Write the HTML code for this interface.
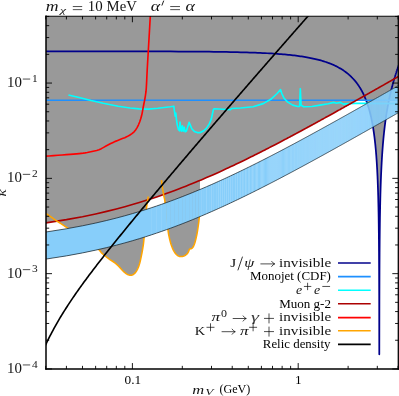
<!DOCTYPE html>
<html><head><meta charset="utf-8"><title>plot</title>
<style>
html,body{margin:0;padding:0;background:#fff;}
body{width:399px;height:396px;overflow:hidden;font-family:"Liberation Serif",serif;}
svg{display:block;}
text{font-family:"Liberation Serif",serif;fill:#141414;}
.i{font-style:italic;}
</style></head><body>
<svg width="399" height="396" viewBox="0 0 399 396">
<defs><linearGradient id="bg" gradientUnits="userSpaceOnUse" x1="150" y1="0" x2="399" y2="0"><stop offset="0" stop-color="#87cefa" stop-opacity="0.7"/><stop offset="0.3" stop-color="#87cefa" stop-opacity="0.4"/><stop offset="0.76" stop-color="#87cefa" stop-opacity="0.45"/><stop offset="1" stop-color="#87cefa" stop-opacity="0.78"/></linearGradient><clipPath id="c"><rect x="46.00" y="16.25" width="352.30" height="352.80"/></clipPath></defs>
<rect width="399" height="396" fill="#fff"/>
<g clip-path="url(#c)" fill="none" stroke-linejoin="round" stroke-linecap="butt">
<polygon points="46.00,16.25 45.70,222.94 46.00,222.90 46.50,222.83 47.00,222.75 47.50,222.68 48.00,222.61 48.50,222.54 49.00,222.46 49.50,222.39 50.00,222.31 50.50,222.24 51.00,222.17 51.50,222.09 52.00,222.02 52.50,221.94 53.00,221.86 53.50,221.79 54.00,221.71 54.50,221.63 55.00,221.56 55.50,221.48 56.00,221.40 56.50,221.32 57.00,221.24 57.50,221.38 58.00,221.71 58.50,222.05 59.00,222.38 59.50,222.72 60.00,223.05 60.50,223.39 61.00,223.72 61.50,224.06 62.00,224.39 62.50,224.73 63.00,225.07 63.50,225.40 64.00,225.74 64.50,226.08 65.00,226.42 65.50,226.76 66.00,227.10 66.50,227.44 67.00,227.79 67.50,228.13 68.00,228.47 68.50,228.81 69.00,229.15 69.50,229.49 70.00,229.84 70.50,230.18 71.00,230.52 71.50,230.86 72.00,231.20 72.50,231.54 73.00,231.88 73.50,232.22 74.00,232.56 74.50,232.90 75.00,233.24 75.50,233.57 76.00,233.91 76.50,234.25 77.00,234.59 77.50,234.93 78.00,235.27 78.50,235.61 79.00,235.95 79.50,236.29 80.00,236.62 80.50,236.96 81.00,237.30 81.50,237.64 82.00,237.99 82.49,238.32 82.50,238.33 83.00,238.67 83.50,239.01 84.00,239.35 84.50,239.69 85.00,240.03 85.50,240.37 86.00,240.71 86.50,241.05 87.00,241.39 87.50,241.74 88.00,242.08 88.50,242.42 89.00,242.76 89.50,243.10 90.00,243.43 90.50,243.77 91.00,244.10 91.50,244.43 92.00,244.77 92.50,245.10 93.00,245.43 93.50,245.75 94.00,246.08 94.50,246.42 95.00,246.76 95.50,247.09 96.00,247.43 96.50,247.77 97.00,248.14 97.50,248.51 98.00,248.88 98.50,249.28 99.00,249.75 99.50,250.23 100.00,250.87 100.50,251.59 101.00,252.24 101.50,252.80 102.00,253.28 102.50,253.75 103.00,254.20 103.50,254.64 104.00,255.07 104.50,255.49 105.00,255.90 105.50,256.30 106.00,256.70 106.50,257.09 106.71,257.25 107.00,257.47 107.50,257.85 108.00,258.22 108.50,258.58 109.00,258.94 109.50,259.30 110.00,259.63 110.50,259.96 111.00,260.28 111.50,260.59 112.00,260.90 112.50,261.22 113.00,261.53 113.50,261.88 114.00,262.23 114.50,262.61 115.00,262.99 115.50,263.39 116.00,263.79 116.50,264.21 117.00,264.64 117.50,265.07 118.00,265.54 118.50,266.01 119.00,266.53 119.50,267.06 120.00,267.64 120.50,268.24 121.00,268.84 121.50,269.43 122.00,269.97 122.50,270.49 123.00,270.98 123.50,271.45 124.00,271.90 124.50,272.33 124.81,272.59 125.00,272.75 125.50,273.15 126.00,273.52 126.50,273.87 127.00,274.19 127.50,274.47 128.00,274.71 128.50,274.91 129.00,275.07 129.50,275.18 130.00,275.27 130.50,275.32 131.00,275.31 131.50,275.25 132.00,275.13 132.50,274.91 133.00,274.65 133.50,274.31 134.00,273.92 134.50,273.49 135.00,273.00 135.50,272.42 136.00,271.77 136.50,271.01 137.00,270.15 137.50,269.19 138.00,268.11 138.50,266.89 139.00,265.50 139.26,264.72 139.50,263.92 140.00,262.06 140.50,259.94 141.00,257.67 141.50,255.28 142.00,252.73 142.50,249.95 143.00,246.92 143.50,243.50 144.00,238.54 144.50,233.93 145.00,229.31 145.30,226.00 145.50,223.05 146.00,214.69 146.50,207.90 147.00,204.00 147.50,200.93 148.00,199.76 148.30,199.66 148.50,199.60 149.00,199.44 149.50,199.28 150.00,199.11 150.50,198.95 151.00,198.79 151.29,198.69 151.50,198.62 152.00,198.46 152.50,198.29 153.00,198.13 153.50,197.96 154.00,197.79 154.50,197.63 155.00,197.46 155.50,197.29 156.00,197.12 156.50,196.95 157.00,196.78 157.50,196.61 158.00,196.44 158.50,196.27 159.00,196.10 159.50,195.93 160.00,195.75 160.50,195.58 161.00,195.41 161.50,195.23 161.59,195.20 162.00,195.06 162.50,194.88 163.00,194.71 163.50,194.53 164.00,196.63 164.50,198.81 165.00,202.02 165.50,206.38 166.00,211.18 166.50,215.96 167.00,220.78 167.50,225.58 168.00,230.00 168.50,233.56 169.00,236.25 169.50,238.52 170.00,240.57 170.50,242.42 170.61,242.79 171.00,244.07 171.50,245.58 172.00,246.96 172.50,248.22 173.00,249.37 173.50,250.40 174.00,251.28 174.50,252.08 175.00,252.81 175.50,253.46 176.00,254.05 176.50,254.59 177.00,255.06 177.50,255.46 178.00,255.80 178.50,256.08 178.61,256.13 179.00,256.28 179.50,256.44 180.00,256.55 180.50,256.58 181.00,256.58 181.50,256.54 182.00,256.47 182.50,256.38 183.00,256.26 183.50,256.11 184.00,255.95 184.50,255.73 185.00,255.48 185.50,255.20 185.82,254.97 186.00,254.83 186.50,254.41 187.00,253.92 187.50,253.33 188.00,252.61 188.50,251.60 189.00,250.38 189.50,249.37 190.00,248.90 190.50,248.84 191.00,248.80 191.50,248.57 192.00,248.20 192.37,247.88 192.50,247.74 193.00,247.10 193.50,246.21 194.00,245.11 194.50,243.81 195.00,242.31 195.50,240.55 196.00,238.52 196.50,236.25 197.00,233.76 197.50,230.91 198.00,227.60 198.38,225.02 198.50,224.13 199.00,220.09 199.50,212.58 199.80,205.00 200.00,180.39 200.50,180.18 201.00,179.97 201.50,179.76 202.00,179.55 202.50,179.34 203.00,179.12 203.50,178.91 203.92,178.73 204.00,178.70 204.50,178.48 205.00,178.27 205.50,178.05 206.00,177.84 206.50,177.62 207.00,177.41 207.50,177.19 208.00,176.97 208.50,176.76 209.00,176.54 209.06,176.51 209.50,176.32 210.00,176.10 210.50,175.88 211.00,175.66 211.50,175.44 212.00,175.22 212.50,175.00 213.00,174.78 213.50,174.56 213.86,174.40 214.00,174.34 214.50,174.12 215.00,173.89 215.50,173.67 216.00,173.45 216.50,173.22 217.00,173.00 217.50,172.77 218.00,172.55 218.37,172.38 218.50,172.32 219.00,172.10 219.50,171.87 220.00,171.65 220.50,171.42 221.00,171.19 221.50,170.96 222.00,170.74 222.50,170.51 222.60,170.46 223.00,170.28 223.50,170.05 224.00,169.82 224.50,169.59 225.00,169.36 225.50,169.13 226.00,168.90 226.50,168.67 226.60,168.62 227.00,168.43 227.50,168.20 228.00,167.97 228.50,167.74 229.00,167.50 229.50,167.27 230.00,167.04 230.40,166.85 230.50,166.80 231.00,166.57 231.50,166.33 232.00,166.10 232.50,165.86 233.00,165.63 233.50,165.39 234.00,165.15 234.00,165.15 234.50,164.92 235.00,164.68 235.50,164.44 236.00,164.20 236.50,163.96 237.00,163.73 237.43,163.52 237.50,163.49 238.00,163.25 238.50,163.01 239.00,162.77 239.50,162.53 240.00,162.29 240.50,162.05 240.70,161.95 241.00,161.80 241.50,161.56 242.00,161.32 242.50,161.08 243.00,160.84 243.50,160.59 243.83,160.43 244.00,160.35 244.50,160.11 245.00,159.86 245.50,159.62 246.00,159.37 246.50,159.13 246.83,158.97 247.00,158.88 247.50,158.64 248.00,158.39 248.50,158.15 249.00,157.90 249.50,157.65 249.71,157.55 250.00,157.41 250.50,157.16 251.00,156.91 251.50,156.66 252.00,156.42 252.48,156.18 252.50,156.17 253.00,155.92 253.50,155.67 254.00,155.42 254.50,155.17 255.00,154.92 255.15,154.85 255.50,154.67 256.00,154.42 256.50,154.17 257.00,153.92 257.50,153.67 257.72,153.56 258.00,153.42 258.50,153.17 259.00,152.91 259.50,152.66 260.00,152.41 260.20,152.31 260.50,152.16 261.00,151.90 261.50,151.65 262.00,151.40 262.50,151.14 262.60,151.09 263.00,150.89 263.50,150.63 264.00,150.38 264.50,150.12 264.93,149.91 265.00,149.87 265.50,149.61 266.00,149.36 266.50,149.10 267.00,148.85 267.18,148.76 267.50,148.59 268.00,148.33 268.50,148.08 269.00,147.82 269.36,147.63 269.50,147.56 270.00,147.31 270.50,147.05 271.00,146.79 271.48,146.54 271.50,146.53 272.00,146.27 272.50,146.01 273.00,145.75 273.50,145.50 273.54,145.48 274.00,145.24 274.50,144.98 275.00,144.72 275.50,144.46 275.54,144.44 276.00,144.20 276.50,143.94 277.00,143.68 277.48,143.42 277.50,143.41 278.00,143.15 278.50,142.89 279.00,142.63 279.38,142.43 279.50,142.37 280.00,142.11 280.50,141.84 281.00,141.58 281.22,141.46 281.50,141.32 282.00,141.06 282.50,140.79 283.00,140.53 283.02,140.52 283.50,140.27 284.00,140.00 284.50,139.74 284.78,139.59 285.00,139.48 285.50,139.21 286.00,138.95 286.49,138.69 286.50,138.68 287.00,138.42 287.50,138.15 288.00,137.89 288.17,137.80 288.50,137.62 289.00,137.36 289.50,137.09 289.81,136.93 290.00,136.82 290.50,136.56 291.00,136.29 291.41,136.08 291.50,136.03 292.00,135.76 292.50,135.49 292.97,135.24 293.00,135.23 293.50,134.96 294.00,134.69 294.50,134.42 294.50,134.42 295.00,134.16 295.50,133.89 296.00,133.62 296.00,133.62 296.50,133.35 297.00,133.08 297.47,132.83 297.50,132.82 298.00,132.55 298.50,132.28 298.91,132.06 299.00,132.01 299.50,131.74 300.00,131.47 300.33,131.29 300.50,131.20 301.00,130.93 301.50,130.66 301.71,130.55 302.00,130.39 302.50,130.12 303.00,129.85 303.07,129.81 303.50,129.58 304.00,129.31 304.40,129.09 304.50,129.04 305.00,128.77 305.50,128.50 305.71,128.38 306.00,128.23 306.50,127.95 307.00,127.69 307.00,127.68 307.50,127.41 308.00,127.14 308.26,127.00 308.50,126.87 309.00,126.60 309.50,126.32 309.50,126.32 310.00,126.05 310.50,125.78 310.72,125.66 311.00,125.51 311.50,125.23 311.92,125.00 312.00,124.96 312.50,124.69 313.00,124.42 313.10,124.36 313.50,124.14 314.00,123.87 314.26,123.72 314.50,123.60 315.00,123.32 315.41,123.10 315.50,123.05 316.00,122.77 316.50,122.50 316.53,122.48 317.00,122.23 317.50,121.95 317.64,121.87 318.00,121.68 318.50,121.40 318.73,121.28 319.00,121.13 319.50,120.85 319.81,120.69 320.00,120.58 320.50,120.30 320.87,120.10 321.00,120.03 321.50,119.75 321.91,119.53 322.00,119.48 322.50,119.20 322.94,118.96 323.00,118.93 323.50,118.65 323.95,118.40 324.00,118.38 324.50,118.10 324.95,117.85 325.00,117.82 325.50,117.55 325.94,117.31 326.00,117.27 326.50,117.00 326.91,116.77 327.00,116.72 327.50,116.44 327.87,116.24 328.00,116.17 328.50,115.89 328.82,115.71 329.00,115.61 329.50,115.34 329.75,115.20 330.00,115.06 330.50,114.78 330.68,114.68 331.00,114.51 331.50,114.23 331.59,114.18 332.00,113.95 332.49,113.68 332.50,113.67 333.00,113.40 333.38,113.19 333.50,113.12 334.00,112.84 334.26,112.70 334.50,112.56 335.00,112.28 335.12,112.22 335.50,112.01 335.98,111.74 336.00,111.73 336.50,111.45 336.83,111.27 337.00,111.17 337.50,110.89 337.66,110.80 338.00,110.61 338.49,110.34 338.50,110.34 339.00,110.06 339.31,109.88 339.50,109.78 340.00,109.50 340.12,109.43 340.50,109.22 340.92,108.99 341.00,108.94 341.50,108.66 341.71,108.55 342.00,108.38 342.49,108.11 342.50,108.10 343.00,107.83 343.27,107.68 343.50,107.55 344.00,107.27 344.03,107.25 344.50,106.99 344.79,106.82 345.00,106.71 345.50,106.43 345.54,106.40 346.00,106.15 346.28,105.99 346.50,105.87 347.00,105.59 347.02,105.58 347.50,105.31 347.75,105.17 348.00,105.03 348.11,104.97 348.25,104.89 348.40,104.81 348.50,104.75 348.54,104.73 348.68,104.65 348.82,104.57 348.97,104.49 349.00,104.47 349.11,104.41 349.25,104.33 349.39,104.25 349.50,104.19 349.53,104.17 349.67,104.09 349.82,104.01 349.96,103.93 350.00,103.91 350.10,103.85 350.24,103.77 350.38,103.70 350.50,103.63 350.52,103.62 350.65,103.54 350.79,103.46 350.93,103.38 351.00,103.35 351.07,103.31 351.21,103.23 351.35,103.15 351.48,103.07 351.50,103.07 351.62,103.00 351.76,102.92 351.89,102.84 352.00,102.79 352.03,102.77 352.17,102.69 352.30,102.61 352.44,102.54 352.50,102.50 352.57,102.46 352.71,102.39 352.84,102.31 352.98,102.24 353.00,102.22 353.11,102.16 353.25,102.08 353.38,102.01 353.50,101.94 353.52,101.93 353.65,101.86 353.78,101.78 353.92,101.71 354.00,101.66 354.05,101.63 354.18,101.56 354.31,101.49 354.44,101.41 354.50,101.38 354.58,101.34 354.71,101.26 354.84,101.19 354.97,101.12 355.00,101.10 355.10,101.04 355.23,100.97 355.36,100.90 355.49,100.82 355.50,100.82 355.62,100.75 355.75,100.68 355.88,100.60 356.00,100.54 356.01,100.53 356.14,100.46 356.27,100.39 356.40,100.31 356.50,100.26 356.52,100.24 356.65,100.20 356.78,100.20 356.91,100.20 357.00,100.20 357.04,100.20 357.16,100.20 357.29,100.20 357.42,100.20 357.50,100.20 357.54,100.20 357.67,100.20 357.79,100.20 357.92,100.20 358.00,100.20 358.05,100.20 358.17,100.20 358.30,100.20 358.42,100.20 358.50,100.20 358.55,100.20 358.67,100.20 358.79,100.20 358.92,100.20 359.00,100.20 359.04,100.20 359.17,100.20 359.29,100.20 359.41,100.20 359.50,100.20 359.54,100.20 359.66,100.20 359.78,100.20 359.90,100.20 360.00,100.20 360.03,100.20 360.15,100.20 360.27,100.20 360.39,100.20 360.50,100.20 360.51,100.20 360.63,100.20 360.75,100.20 360.87,100.20 361.00,100.20 361.00,100.20 361.12,100.20 361.24,100.20 361.36,100.20 361.48,100.20 361.50,100.20 361.59,100.20 361.71,100.20 361.83,100.20 361.95,100.20 362.00,100.20 362.07,100.20 362.19,100.20 362.31,100.20 362.43,100.20 362.50,100.20 362.54,100.20 362.66,100.20 362.78,100.20 362.90,100.20 363.00,100.20 363.01,100.20 363.13,100.20 363.25,100.20 363.36,100.20 363.48,100.20 363.50,100.20 363.60,100.20 363.71,100.20 363.83,100.20 363.94,100.20 364.00,100.20 364.06,100.20 364.18,100.20 364.29,100.20 364.41,100.20 364.50,100.20 364.52,100.20 364.63,100.20 364.75,100.20 364.86,100.20 364.98,100.20 365.00,100.20 365.09,100.20 365.20,100.20 365.32,100.20 365.43,100.20 365.50,100.20 365.54,100.20 365.66,100.20 365.77,100.20 365.88,100.20 366.00,100.20 366.00,100.20 366.11,100.27 366.22,100.57 366.33,100.86 366.44,101.16 366.50,101.31 366.55,101.46 366.67,101.76 366.78,102.07 366.89,102.38 367.00,102.69 367.00,102.69 367.11,103.00 367.22,103.32 367.33,103.64 367.44,103.96 367.50,104.14 367.55,104.29 367.66,104.62 367.77,104.95 367.88,105.28 367.99,105.62 368.00,105.65 368.10,105.96 368.21,106.31 368.32,106.66 368.43,107.01 368.50,107.26 368.53,107.37 368.64,107.73 368.75,108.09 368.86,108.46 368.97,108.83 369.00,108.94 369.07,109.20 369.18,109.58 369.29,109.96 369.40,110.35 369.50,110.73 369.50,110.74 369.61,111.14 369.72,111.54 369.82,111.94 369.93,112.35 370.00,112.62 370.04,112.76 370.14,113.18 370.25,113.61 370.35,114.03 370.46,114.47 370.50,114.63 370.57,114.91 370.67,115.35 370.78,115.80 370.88,116.25 370.99,116.72 371.00,116.78 371.09,117.18 371.20,117.66 371.30,118.13 371.40,118.62 371.50,119.07 371.51,119.11 371.61,119.61 371.72,120.11 371.82,120.63 371.92,121.15 372.00,121.54 372.03,121.67 372.13,122.21 372.23,122.75 372.34,123.30 372.44,123.86 372.50,124.20 372.54,124.42 372.64,125.00 372.75,125.58 372.85,126.18 372.95,126.78 373.00,127.08 373.05,127.39 373.15,128.02 373.26,128.65 373.36,129.29 373.46,129.95 373.50,130.22 373.56,130.62 373.66,131.29 373.76,131.99 373.86,132.69 373.96,133.41 374.00,133.67 374.06,134.14 374.16,134.88 374.26,135.64 374.36,136.41 374.46,137.20 374.50,137.50 374.56,138.01 374.66,138.84 374.76,139.68 374.86,140.54 374.96,141.42 375.00,141.77 375.06,142.32 375.16,143.24 375.26,144.19 375.36,145.15 375.46,146.15 375.50,146.60 375.55,147.16 375.65,148.21 375.75,149.28 375.85,150.39 375.95,151.52 376.00,152.16 376.04,152.69 376.14,153.90 376.24,155.14 376.34,156.42 376.43,157.75 376.50,158.68 376.53,159.12 376.63,160.54 376.73,162.01 376.82,163.54 376.92,165.13 377.00,166.53 377.01,166.79 377.11,168.52 377.21,170.32 377.30,172.21 377.40,174.20 377.50,176.28 377.50,176.39 377.59,178.49 377.69,180.81 377.78,183.28 377.88,185.91 377.97,188.72 378.00,189.60 378.07,191.74 378.16,195.01 378.26,198.55 378.35,202.44 378.45,206.73 378.50,209.45 378.54,211.53 378.64,216.97 378.73,223.24 378.82,230.64 378.92,239.68 379.00,249.88 379.01,251.27 379.10,267.45 379.20,294.44 379.29,354.30 379.30,354.30 379.39,301.51 379.48,270.90 379.50,266.88 379.57,253.48 379.66,241.24 379.76,231.79 379.85,224.10 379.94,217.61 380.00,214.13 380.04,211.99 380.13,207.04 380.22,202.61 380.31,198.61 380.40,194.95 380.50,191.59 380.50,191.45 380.59,188.48 380.68,185.58 380.77,182.87 380.86,180.32 380.95,177.91 381.00,176.76 381.04,175.64 381.14,173.48 381.23,171.43 381.32,169.47 381.41,167.59 381.50,165.80 381.50,165.78 381.59,164.08 381.68,162.42 381.77,160.83 381.86,159.29 381.95,157.81 382.00,157.02 382.04,156.38 382.13,154.99 382.22,153.64 382.31,152.34 382.40,151.08 382.49,149.85 382.50,149.70 382.58,148.65 382.67,147.49 382.76,146.36 382.85,145.25 382.93,144.18 383.00,143.40 383.02,143.13 383.11,142.10 383.20,141.10 383.29,140.12 383.38,139.16 383.46,138.22 383.50,137.86 383.55,137.31 383.64,136.41 383.73,135.53 383.82,134.66 383.90,133.82 383.99,132.98 384.00,132.91 384.08,132.17 384.17,131.37 384.25,130.58 384.34,129.81 384.43,129.05 384.50,128.43 384.51,128.30 384.60,127.57 384.69,126.85 384.77,126.13 384.86,125.43 384.95,124.75 385.00,124.33 385.03,124.07 385.12,123.40 385.21,122.74 385.29,122.09 385.38,121.45 385.46,120.82 385.50,120.56 385.55,120.20 385.64,119.59 385.72,118.98 385.81,118.38 385.89,117.79 385.98,117.21 386.00,117.05 386.06,116.64 386.15,116.07 386.23,115.51 386.32,114.96 386.40,114.41 386.49,113.87 386.50,113.78 386.57,113.34 386.65,112.81 386.74,112.29 386.82,111.77 386.91,111.26 386.99,110.76 387.00,110.70 387.07,110.26 387.16,109.76 387.24,109.28 387.33,108.79 387.41,108.31 387.49,107.84 387.50,107.80 387.58,107.37 387.66,106.91 387.74,106.45 387.82,106.00 387.91,105.55 387.99,105.10 388.00,105.05 388.07,104.66 388.16,104.22 388.24,103.79 388.32,103.36 388.40,102.93 388.49,102.51 388.50,102.44 388.57,102.09 388.65,101.68 388.73,101.27 388.81,100.86 388.90,100.46 388.98,100.20 389.00,100.20 389.06,100.20 389.14,100.20 389.22,100.20 389.30,100.20 389.38,100.20 389.47,100.20 389.50,100.20 389.55,100.20 389.63,100.20 389.71,100.20 389.79,100.20 389.87,100.20 389.95,100.20 390.00,100.20 390.03,100.20 390.11,100.20 390.19,100.20 390.27,100.20 390.35,100.20 390.43,100.20 390.50,100.20 390.51,100.20 390.59,100.20 390.67,100.20 390.75,100.20 390.83,100.20 390.91,100.20 390.99,100.20 391.00,100.20 391.07,100.20 391.15,100.20 391.23,100.20 391.31,100.20 391.39,100.20 391.46,100.20 391.50,100.20 391.54,100.20 391.62,100.20 391.70,100.20 391.78,100.20 391.86,100.20 391.94,100.20 392.00,100.20 392.01,100.20 392.09,100.20 392.17,100.20 392.25,100.20 392.33,100.20 392.40,100.20 392.48,100.20 392.50,100.20 392.56,100.20 392.64,100.20 392.72,100.20 392.79,100.20 392.87,100.20 392.95,100.20 393.00,100.20 393.02,100.20 393.10,100.20 393.18,100.20 393.26,100.20 393.33,100.20 393.41,100.20 393.49,100.20 393.50,100.20 393.56,100.20 393.64,100.20 393.72,100.20 393.79,100.20 393.87,100.20 393.94,100.20 394.00,100.20 394.02,100.20 394.10,100.20 394.17,100.20 394.25,100.20 394.32,100.20 394.40,100.20 394.48,100.20 394.50,100.20 394.55,100.20 394.63,100.20 394.70,100.20 394.78,100.20 394.85,100.20 394.93,100.20 395.00,100.20 395.00,100.20 395.08,100.20 395.15,100.20 395.23,100.20 395.30,100.20 395.38,100.20 395.45,100.20 395.50,100.20 395.53,100.20 395.60,100.20 395.68,100.20 395.75,100.20 395.83,100.20 395.90,100.20 395.97,100.20 396.00,100.20 396.05,100.20 396.12,100.20 396.20,100.20 396.27,100.20 396.34,100.20 396.42,100.20 396.49,100.20 396.50,100.20 396.56,100.20 396.64,100.20 396.71,100.20 396.78,100.20 396.86,100.20 396.93,100.20 397.00,100.20 397.00,100.20 397.08,100.20 397.15,100.20 397.22,100.20 397.29,100.20 397.37,100.20 397.44,100.20 397.50,100.20 397.51,100.20 397.59,100.20 397.66,100.20 397.73,100.20 397.80,100.20 397.87,100.20 397.95,100.20 398.00,100.20 398.02,100.20 398.09,100.20 398.16,100.20 398.23,100.20 398.31,100.20 398.38,100.20 398.45,100.20 398.50,100.20 398.52,100.20 398.59,100.20 398.66,100.20 398.73,100.20 398.81,100.20 398.88,100.20 398.95,100.20 399.00,100.20 399.00,16.25" fill="#999999"/>
<polyline points="45.70,51.37 82.49,51.38 106.71,51.39 124.81,51.40 139.26,51.42 151.29,51.44 161.59,51.47 170.61,51.49 178.61,51.53 185.82,51.56 192.37,51.60 198.38,51.64 203.92,51.69 209.06,51.74 213.86,51.79 218.37,51.85 222.60,51.91 226.60,51.97 230.40,52.04 234.00,52.11 237.43,52.18 240.70,52.26 243.83,52.34 246.83,52.43 249.71,52.52 252.48,52.61 255.15,52.71 257.72,52.81 260.20,52.91 262.60,53.02 264.93,53.13 267.18,53.25 269.36,53.37 271.48,53.49 273.54,53.62 275.54,53.75 277.48,53.89 279.38,54.03 281.22,54.18 283.02,54.33 284.78,54.48 286.49,54.64 288.17,54.80 289.81,54.97 291.41,55.14 292.97,55.31 294.50,55.49 296.00,55.68 297.47,55.87 298.91,56.06 300.33,56.26 301.71,56.47 303.07,56.68 304.40,56.89 305.71,57.11 307.00,57.33 308.26,57.56 309.50,57.80 310.72,58.04 311.92,58.29 313.10,58.54 314.26,58.79 315.41,59.06 316.53,59.33 317.64,59.60 318.73,59.88 319.81,60.17 320.87,60.46 321.91,60.76 322.94,61.07 323.95,61.39 324.95,61.71 325.94,62.03 326.91,62.37 327.87,62.71 328.82,63.06 329.75,63.42 330.68,63.78 331.59,64.15 332.49,64.53 333.38,64.92 334.26,65.32 335.12,65.73 335.98,66.14 336.83,66.57 337.66,67.00 338.49,67.45 339.31,67.90 340.12,68.37 340.92,68.84 341.71,69.33 342.49,69.82 343.27,70.33 344.03,70.85 344.79,71.39 345.54,71.93 346.28,72.49 347.02,73.06 347.75,73.65 348.11,73.95 348.25,74.07 348.40,74.19 348.54,74.31 348.68,74.43 348.82,74.56 348.97,74.68 349.11,74.80 349.25,74.93 349.39,75.05 349.53,75.18 349.67,75.31 349.82,75.43 349.96,75.56 350.10,75.69 350.24,75.82 350.38,75.95 350.52,76.08 350.65,76.21 350.79,76.34 350.93,76.47 351.07,76.61 351.21,76.74 351.35,76.87 351.48,77.01 351.62,77.15 351.76,77.28 351.89,77.42 352.03,77.56 352.17,77.70 352.30,77.84 352.44,77.98 352.57,78.12 352.71,78.26 352.84,78.40 352.98,78.54 353.11,78.69 353.25,78.83 353.38,78.98 353.52,79.13 353.65,79.27 353.78,79.42 353.92,79.57 354.05,79.72 354.18,79.87 354.31,80.02 354.44,80.17 354.58,80.33 354.71,80.48 354.84,80.63 354.97,80.79 355.10,80.95 355.23,81.10 355.36,81.26 355.49,81.42 355.62,81.58 355.75,81.74 355.88,81.90 356.01,82.06 356.14,82.23 356.27,82.39 356.40,82.56 356.52,82.72 356.65,82.89 356.78,83.06 356.91,83.23 357.04,83.40 357.16,83.57 357.29,83.74 357.42,83.92 357.54,84.09 357.67,84.27 357.79,84.44 357.92,84.62 358.05,84.80 358.17,84.98 358.30,85.16 358.42,85.34 358.55,85.53 358.67,85.71 358.79,85.90 358.92,86.08 359.04,86.27 359.17,86.46 359.29,86.65 359.41,86.84 359.54,87.03 359.66,87.23 359.78,87.42 359.90,87.62 360.03,87.81 360.15,88.01 360.27,88.21 360.39,88.41 360.51,88.62 360.63,88.82 360.75,89.03 360.87,89.23 361.00,89.44 361.12,89.65 361.24,89.86 361.36,90.08 361.48,90.29 361.59,90.50 361.71,90.72 361.83,90.94 361.95,91.16 362.07,91.38 362.19,91.60 362.31,91.83 362.43,92.05 362.54,92.28 362.66,92.51 362.78,92.74 362.90,92.98 363.01,93.21 363.13,93.45 363.25,93.68 363.36,93.92 363.48,94.17 363.60,94.41 363.71,94.65 363.83,94.90 363.94,95.15 364.06,95.40 364.18,95.65 364.29,95.91 364.41,96.16 364.52,96.42 364.63,96.68 364.75,96.95 364.86,97.21 364.98,97.48 365.09,97.75 365.20,98.02 365.32,98.29 365.43,98.57 365.54,98.85 365.66,99.13 365.77,99.41 365.88,99.69 366.00,99.98 366.11,100.27 366.22,100.57 366.33,100.86 366.44,101.16 366.55,101.46 366.67,101.76 366.78,102.07 366.89,102.38 367.00,102.69 367.11,103.00 367.22,103.32 367.33,103.64 367.44,103.96 367.55,104.29 367.66,104.62 367.77,104.95 367.88,105.28 367.99,105.62 368.10,105.96 368.21,106.31 368.32,106.66 368.43,107.01 368.53,107.37 368.64,107.73 368.75,108.09 368.86,108.46 368.97,108.83 369.07,109.20 369.18,109.58 369.29,109.96 369.40,110.35 369.50,110.74 369.61,111.14 369.72,111.54 369.82,111.94 369.93,112.35 370.04,112.76 370.14,113.18 370.25,113.61 370.35,114.03 370.46,114.47 370.57,114.91 370.67,115.35 370.78,115.80 370.88,116.25 370.99,116.72 371.09,117.18 371.20,117.66 371.30,118.13 371.40,118.62 371.51,119.11 371.61,119.61 371.72,120.11 371.82,120.63 371.92,121.15 372.03,121.67 372.13,122.21 372.23,122.75 372.34,123.30 372.44,123.86 372.54,124.42 372.64,125.00 372.75,125.58 372.85,126.18 372.95,126.78 373.05,127.39 373.15,128.02 373.26,128.65 373.36,129.29 373.46,129.95 373.56,130.62 373.66,131.29 373.76,131.99 373.86,132.69 373.96,133.41 374.06,134.14 374.16,134.88 374.26,135.64 374.36,136.41 374.46,137.20 374.56,138.01 374.66,138.84 374.76,139.68 374.86,140.54 374.96,141.42 375.06,142.32 375.16,143.24 375.26,144.19 375.36,145.15 375.46,146.15 375.55,147.16 375.65,148.21 375.75,149.28 375.85,150.39 375.95,151.52 376.04,152.69 376.14,153.90 376.24,155.14 376.34,156.42 376.43,157.75 376.53,159.12 376.63,160.54 376.73,162.01 376.82,163.54 376.92,165.13 377.01,166.79 377.11,168.52 377.21,170.32 377.30,172.21 377.40,174.20 377.50,176.28 377.59,178.49 377.69,180.81 377.78,183.28 377.88,185.91 377.97,188.72 378.07,191.74 378.16,195.01 378.26,198.55 378.35,202.44 378.45,206.73 378.54,211.53 378.64,216.97 378.73,223.24 378.82,230.64 378.92,239.68 379.01,251.27 379.10,267.45 379.20,294.44 379.29,354.30 379.30,354.30 379.39,301.51 379.48,270.90 379.57,253.48 379.66,241.24 379.76,231.79 379.85,224.10 379.94,217.61 380.04,211.99 380.13,207.04 380.22,202.61 380.31,198.61 380.40,194.95 380.50,191.59 380.59,188.48 380.68,185.58 380.77,182.87 380.86,180.32 380.95,177.91 381.04,175.64 381.14,173.48 381.23,171.43 381.32,169.47 381.41,167.59 381.50,165.80 381.59,164.08 381.68,162.42 381.77,160.83 381.86,159.29 381.95,157.81 382.04,156.38 382.13,154.99 382.22,153.64 382.31,152.34 382.40,151.08 382.49,149.85 382.58,148.65 382.67,147.49 382.76,146.36 382.85,145.25 382.93,144.18 383.02,143.13 383.11,142.10 383.20,141.10 383.29,140.12 383.38,139.16 383.46,138.22 383.55,137.31 383.64,136.41 383.73,135.53 383.82,134.66 383.90,133.82 383.99,132.98 384.08,132.17 384.17,131.37 384.25,130.58 384.34,129.81 384.43,129.05 384.51,128.30 384.60,127.57 384.69,126.85 384.77,126.13 384.86,125.43 384.95,124.75 385.03,124.07 385.12,123.40 385.21,122.74 385.29,122.09 385.38,121.45 385.46,120.82 385.55,120.20 385.64,119.59 385.72,118.98 385.81,118.38 385.89,117.79 385.98,117.21 386.06,116.64 386.15,116.07 386.23,115.51 386.32,114.96 386.40,114.41 386.49,113.87 386.57,113.34 386.65,112.81 386.74,112.29 386.82,111.77 386.91,111.26 386.99,110.76 387.07,110.26 387.16,109.76 387.24,109.28 387.33,108.79 387.41,108.31 387.49,107.84 387.58,107.37 387.66,106.91 387.74,106.45 387.82,106.00 387.91,105.55 387.99,105.10 388.07,104.66 388.16,104.22 388.24,103.79 388.32,103.36 388.40,102.93 388.49,102.51 388.57,102.09 388.65,101.68 388.73,101.27 388.81,100.86 388.90,100.46 388.98,100.06 389.06,99.66 389.14,99.27 389.22,98.88 389.30,98.49 389.38,98.11 389.47,97.73 389.55,97.35 389.63,96.98 389.71,96.61 389.79,96.24 389.87,95.87 389.95,95.51 390.03,95.15 390.11,94.79 390.19,94.44 390.27,94.08 390.35,93.73 390.43,93.39 390.51,93.04 390.59,92.70 390.67,92.36 390.75,92.02 390.83,91.69 390.91,91.36 390.99,91.03 391.07,90.70 391.15,90.37 391.23,90.05 391.31,89.73 391.39,89.41 391.46,89.09 391.54,88.77 391.62,88.46 391.70,88.15 391.78,87.84 391.86,87.53 391.94,87.23 392.01,86.93 392.09,86.62 392.17,86.32 392.25,86.03 392.33,85.73 392.40,85.44 392.48,85.14 392.56,84.85 392.64,84.56 392.72,84.28 392.79,83.99 392.87,83.71 392.95,83.43 393.02,83.14 393.10,82.87 393.18,82.59 393.26,82.31 393.33,82.04 393.41,81.76 393.49,81.49 393.56,81.22 393.64,80.95 393.72,80.69 393.79,80.42 393.87,80.16 393.94,79.89 394.02,79.63 394.10,79.37 394.17,79.11 394.25,78.86 394.32,78.60 394.40,78.35 394.48,78.09 394.55,77.84 394.63,77.59 394.70,77.34 394.78,77.09 394.85,76.84 394.93,76.60 395.00,76.35 395.08,76.11 395.15,75.87 395.23,75.63 395.30,75.39 395.38,75.15 395.45,74.91 395.53,74.67 395.60,74.44 395.68,74.20 395.75,73.97 395.83,73.74 395.90,73.51 395.97,73.28 396.05,73.05 396.12,72.82 396.20,72.59 396.27,72.37 396.34,72.14 396.42,71.92 396.49,71.69 396.56,71.47 396.64,71.25 396.71,71.03 396.78,70.81 396.86,70.59 396.93,70.37 397.00,70.16 397.08,69.94 397.15,69.73 397.22,69.51 397.29,69.30 397.37,69.09 397.44,68.88 397.51,68.67 397.59,68.46 397.66,68.25 397.73,68.04 397.80,67.83 397.87,67.63 397.95,67.42 398.02,67.22 398.09,67.01 398.16,66.81 398.23,66.61 398.31,66.41 398.38,66.21 398.45,66.01 398.52,65.81 398.59,65.61 398.66,65.41 398.73,65.21 398.81,65.02 398.88,64.82 398.95,64.63 399.02,64.43 399.09,64.24 399.16,64.05 399.23,63.86 399.30,63.67 399.37,63.47" stroke="#00008b" stroke-width="1.75"/>
<path d="M46.00 100.20H399" stroke="#1e90ff" stroke-width="1.55"/>
<polyline points="68.40,95.00 79.10,97.50 91.10,100.50 103.20,103.20 118.20,106.20 130.20,108.00 139.20,108.90 148.30,109.10 157.90,108.20 170.50,106.70 173.80,106.20 174.50,111.50 175.20,116.10 175.80,113.00 176.40,119.10 177.30,125.10 178.50,129.60 179.60,130.80 180.00,122.10 180.60,126.60 181.50,131.10 182.40,125.80 183.30,131.10 184.20,127.30 185.20,131.80 186.40,131.10 187.60,127.30 189.10,122.40 190.30,125.10 191.80,128.80 194.30,131.40 197.30,132.60 200.30,132.60 203.30,131.10 206.40,128.40 209.40,123.60 211.30,119.10 212.50,113.80 213.40,109.30 214.60,108.80 222.80,109.20 230.40,109.70 231.70,108.50 240.50,108.00 253.10,106.70 263.20,103.60 270.80,99.30 277.10,93.50 280.50,89.60 282.00,94.00 284.00,98.20 287.70,102.10 292.70,105.10 297.70,106.50 299.60,106.50 300.30,88.70 301.10,105.30 303.70,106.80 311.90,106.50 320.00,105.10 328.30,103.80 333.70,102.40 336.40,103.20 340.50,102.40 343.30,104.10 348.70,103.60 355.60,103.40 366.50,103.40 398.00,103.60" stroke="#00ffff" stroke-width="1.65"/>
<polyline points="45.70,222.94 66.42,219.68 82.49,216.71 95.61,213.95 106.71,211.38 116.33,208.97 124.81,206.70 132.40,204.54 139.26,202.50 145.53,200.55 151.29,198.69 156.62,196.91 161.59,195.20 166.24,193.56 170.61,191.98 174.72,190.45 178.61,188.98 182.31,187.56 185.82,186.18 189.17,184.85 192.37,183.55 195.44,182.29 198.38,181.07 201.20,179.89 203.92,178.73 206.54,177.61 209.06,176.51 211.50,175.44 213.86,174.40 216.15,173.38 218.37,172.38 220.52,171.41 222.60,170.46 224.63,169.53 226.60,168.62 228.52,167.73 230.40,166.85 232.22,165.99 234.00,165.15 235.73,164.33 237.43,163.52 239.08,162.73 240.70,161.95 242.28,161.18 243.83,160.43 245.35,159.69 246.83,158.97 248.29,158.25 249.71,157.55 251.11,156.86 252.48,156.18 253.83,155.51 255.15,154.85 256.45,154.20 257.72,153.56 258.97,152.93 260.20,152.31 261.41,151.69 262.60,151.09 263.78,150.49 264.93,149.91 266.06,149.33 267.18,148.76 268.28,148.19 269.36,147.63 270.43,147.09 271.48,146.54 272.51,146.01 273.54,145.48 274.54,144.95 275.54,144.44 276.52,143.93 277.48,143.42 278.44,142.93 279.38,142.43 280.31,141.95 281.22,141.46 282.13,140.99 283.02,140.52 283.91,140.05 284.78,139.59 285.64,139.14 286.49,138.69 287.34,138.24 288.17,137.80 288.99,137.36 289.81,136.93 290.61,136.50 291.41,136.08 292.19,135.66 292.97,135.24 293.74,134.83 294.50,134.42 295.26,134.02 296.00,133.62 296.74,133.22 297.47,132.83 298.20,132.44 298.91,132.06 299.62,131.67 300.33,131.29 301.02,130.92 301.71,130.55 302.39,130.18 303.07,129.81 303.74,129.45 304.40,129.09 305.06,128.74 305.71,128.38 306.36,128.03 307.00,127.69 307.63,127.34 308.26,127.00 308.88,126.66 309.50,126.32 310.11,125.99 310.72,125.66 311.33,125.33 311.92,125.00 312.52,124.68 313.10,124.36 313.69,124.04 314.26,123.72 314.84,123.41 315.41,123.10 315.97,122.79 316.53,122.48 317.09,122.18 317.64,121.87 318.19,121.57 318.73,121.28 319.27,120.98 319.81,120.69 320.34,120.39 320.87,120.10 321.39,119.82 321.91,119.53 322.42,119.24 322.94,118.96 323.45,118.68 323.95,118.40 324.45,118.13 324.95,117.85 325.45,117.58 325.94,117.31 326.43,117.04 326.91,116.77 327.39,116.50 327.87,116.24 328.35,115.98 328.82,115.71 329.29,115.45 329.75,115.20 330.22,114.94 330.68,114.68 331.13,114.43 331.59,114.18 332.04,113.93 332.49,113.68 332.93,113.43 333.38,113.19 333.82,112.94 334.26,112.70 334.69,112.46 335.12,112.22 335.55,111.98 335.98,111.74 336.41,111.50 336.83,111.27 337.25,111.03 337.66,110.80 338.08,110.57 338.49,110.34 338.90,110.11 339.31,109.88 339.72,109.66 340.12,109.43 340.52,109.21 340.92,108.99 341.32,108.77 341.71,108.55 342.10,108.33 342.49,108.11 342.88,107.89 343.27,107.68 343.65,107.46 344.03,107.25 344.41,107.04 344.79,106.82 345.17,106.61 345.54,106.40 345.91,106.20 346.28,105.99 346.65,105.78 347.02,105.58 347.38,105.37 347.75,105.17 348.11,104.97 348.47,104.77 348.82,104.57 349.18,104.37 349.53,104.17 349.89,103.97 350.24,103.77 350.58,103.58 350.93,103.38 351.28,103.19 351.62,103.00 351.96,102.81 352.30,102.61 352.64,102.42 352.98,102.24 353.32,102.05 353.65,101.86 353.98,101.67 354.31,101.49 354.64,101.30 354.97,101.12 355.30,100.93 355.62,100.75 355.95,100.57 356.27,100.39 356.59,100.21 356.91,100.03 357.23,99.85 357.54,99.67 357.86,99.49 358.17,99.32 358.48,99.14 358.79,98.97 359.10,98.79 359.41,98.62 359.72,98.44 360.03,98.27 360.33,98.10 360.63,97.93 360.94,97.76 361.24,97.59 361.54,97.42 361.83,97.25 362.13,97.09 362.43,96.92 362.72,96.75 363.01,96.59 363.31,96.42 363.60,96.26 363.89,96.10 364.18,95.93 364.46,95.77 364.75,95.61 365.03,95.45 365.32,95.29 365.60,95.13 365.88,94.97 366.16,94.81 366.44,94.65 366.72,94.49 367.00,94.34 367.28,94.18 367.55,94.03 367.83,93.87 368.10,93.72 368.37,93.56 368.64,93.41 368.91,93.26 369.18,93.10 369.45,92.95 369.72,92.80 369.98,92.65 370.25,92.50 370.51,92.35 370.78,92.20 371.04,92.05 371.30,91.91 371.56,91.76 371.82,91.61 372.08,91.47 372.34,91.32 372.59,91.18 372.85,91.03 373.10,90.89 373.36,90.74 373.61,90.60 373.86,90.46 374.11,90.31 374.36,90.17 374.61,90.03 374.86,89.89 375.11,89.75 375.36,89.61 375.60,89.47 375.85,89.33 376.09,89.19 376.34,89.05 376.58,88.92 376.82,88.78 377.06,88.64 377.30,88.51 377.54,88.37 377.78,88.24 378.02,88.10 378.26,87.97 378.49,87.83 378.73,87.70 378.96,87.57 379.20,87.43 379.43,87.30 379.66,87.17 379.90,87.04 380.13,86.91 380.36,86.77 380.59,86.64 380.82,86.51 381.04,86.39 381.27,86.26 381.50,86.13 381.73,86.00 381.95,85.87 382.18,85.74 382.40,85.62 382.62,85.49 382.85,85.36 383.07,85.24 383.29,85.11 383.51,84.99 383.73,84.86 383.95,84.74 384.17,84.61 384.38,84.49 384.60,84.37 384.82,84.24 385.03,84.12 385.25,84.00 385.46,83.88 385.68,83.75 385.89,83.63 386.10,83.51 386.32,83.39 386.53,83.27 386.74,83.15 386.95,83.03 387.16,82.91 387.37,82.80 387.58,82.68 387.78,82.56 387.99,82.44 388.20,82.32 388.40,82.21 388.61,82.09 388.81,81.97 389.02,81.86 389.22,81.74 389.42,81.63 389.63,81.51 389.83,81.40 390.03,81.28 390.23,81.17 390.43,81.05 390.63,80.94 390.83,80.83 391.03,80.71 391.23,80.60 391.42,80.49 391.62,80.38 391.82,80.26 392.01,80.15 392.21,80.04 392.40,79.93 392.60,79.82 392.79,79.71 392.99,79.60 393.18,79.49 393.37,79.38 393.56,79.27 393.75,79.16 393.94,79.05 394.14,78.95 394.32,78.84 394.51,78.73 394.70,78.62 394.89,78.52 395.08,78.41 395.27,78.30 395.45,78.20 395.64,78.09 395.83,77.98 396.01,77.88 396.20,77.77 396.38,77.67 396.56,77.56 396.75,77.46 396.93,77.35 397.11,77.25 397.29,77.15 397.48,77.04 397.66,76.94 397.84,76.84 398.02,76.73 399.00,76.18" stroke="#ac0000" stroke-width="1.65"/>
<polyline points="45.70,156.20 48.90,155.97 53.46,155.63 58.00,155.30 62.16,155.00 66.30,154.69 70.10,154.40 73.44,154.12 76.44,153.86 79.10,153.60 81.26,153.39 83.07,153.18 85.00,152.90 87.25,152.50 89.63,152.02 92.00,151.50 94.33,151.00 96.67,150.45 99.00,149.70 101.33,148.64 103.66,147.37 106.00,146.10 108.37,144.84 110.74,143.58 113.10,142.40 115.41,141.37 117.69,140.44 120.00,139.50 122.36,138.60 124.73,137.71 127.10,136.60 129.54,135.22 131.96,133.63 134.10,131.80 135.81,129.69 137.23,127.34 138.50,124.80 139.65,122.03 140.65,119.07 141.50,116.10 142.17,113.11 142.70,110.10 143.20,107.30 143.71,104.77 144.18,102.44 144.60,100.30 144.94,98.47 145.23,96.83 145.50,95.00 145.77,93.20 146.03,91.21 146.30,88.00 146.59,82.86 146.88,76.49 147.20,70.00 147.55,63.71 147.93,57.29 148.30,50.90 148.67,44.48 149.05,38.08 149.40,32.00 149.74,25.93 150.07,20.19 150.30,16.00 150.40,14.22 150.40,14.00 150.40,14.00" stroke="#ff0000" stroke-width="1.65"/>
<polyline points="45.70,213.40 47.26,214.46 49.50,215.98 52.01,217.69 54.40,219.30 56.59,220.77 58.79,222.24 61.00,223.72 63.20,225.20 65.40,226.70 67.61,228.20 69.81,229.70 72.00,231.20 74.18,232.68 76.35,234.15 78.52,235.62 80.70,237.10 82.89,238.59 85.09,240.09 87.30,241.60 89.50,243.10 91.84,244.66 94.26,246.26 96.51,247.78 98.30,249.10 99.44,250.16 100.12,251.02 100.64,251.80 101.30,252.60 102.16,253.44 103.06,254.26 104.00,255.07 105.00,255.90 106.07,256.75 107.19,257.62 108.35,258.48 109.50,259.30 110.65,260.06 111.80,260.78 112.95,261.50 114.10,262.30 115.25,263.18 116.41,264.13 117.53,265.10 118.60,266.10 119.58,267.14 120.49,268.23 121.39,269.30 122.30,270.30 123.26,271.23 124.24,272.12 125.20,272.92 126.10,273.60 126.91,274.14 127.65,274.56 128.37,274.87 129.10,275.10 129.85,275.26 130.60,275.33 131.35,275.29 132.10,275.10 132.87,274.74 133.64,274.22 134.40,273.59 135.10,272.90 135.73,272.15 136.32,271.31 136.87,270.40 137.40,269.40 137.91,268.32 138.40,267.16 138.86,265.91 139.30,264.60 139.70,263.22 140.08,261.77 140.43,260.23 140.80,258.60 141.18,256.83 141.57,254.95 141.95,253.02 142.30,251.10 142.64,249.17 142.96,247.21 143.25,245.29 143.50,243.50 143.68,242.02 143.80,240.74 143.92,239.35 144.10,237.50 144.36,235.17 144.66,232.51 144.99,229.47 145.30,226.00 145.59,221.78 145.86,216.94 146.16,212.11 146.50,207.90 146.95,204.31 147.47,201.07 147.96,198.39 148.30,196.50" stroke="#ffa500" stroke-width="1.55"/>
<polyline points="161.50,180.10 161.68,181.54 161.92,183.60 162.21,185.89 162.50,188.00 162.79,189.88 163.09,191.72 163.40,193.50 163.70,195.20 163.99,196.60 164.28,197.79 164.58,199.18 164.90,201.20 165.25,204.07 165.63,207.54 166.01,211.28 166.40,215.00 166.80,218.85 167.22,222.91 167.63,226.77 168.00,230.00 168.31,232.35 168.58,234.09 168.86,235.58 169.20,237.20 169.61,239.03 170.07,240.87 170.57,242.68 171.10,244.40 171.65,246.03 172.24,247.59 172.85,249.06 173.50,250.40 174.19,251.61 174.92,252.71 175.66,253.67 176.40,254.50 177.12,255.17 177.84,255.71 178.56,256.11 179.30,256.40 180.06,256.56 180.84,256.59 181.62,256.53 182.40,256.40 183.19,256.21 183.99,255.95 184.77,255.61 185.50,255.20 186.17,254.71 186.79,254.15 187.37,253.51 187.90,252.80 188.37,251.91 188.79,250.88 189.19,249.91 189.60,249.20 190.02,248.89 190.44,248.84 190.86,248.85 191.30,248.70 191.76,248.39 192.24,248.02 192.72,247.51 193.20,246.80 193.68,245.86 194.16,244.73 194.64,243.44 195.10,242.00 195.55,240.37 195.99,238.55 196.41,236.66 196.80,234.80 197.14,233.06 197.43,231.35 197.71,229.57 198.00,227.60 198.31,225.45 198.64,223.16 198.94,220.70 199.20,218.00 199.41,214.68 199.57,210.90 199.71,207.42 199.80,205.00" stroke="#ffa500" stroke-width="1.55"/>
<polygon points="45.70,232.04 66.42,228.78 82.49,225.81 95.61,223.05 106.71,220.48 116.33,218.07 124.81,215.80 132.40,213.64 139.26,211.60 145.53,209.65 151.29,207.79 156.62,206.01 161.59,204.30 166.24,202.66 170.61,201.08 174.72,199.55 178.61,198.08 182.31,196.66 185.82,195.28 189.17,193.95 192.37,192.65 195.44,191.39 198.38,190.17 201.20,188.99 203.92,187.83 206.54,186.71 209.06,185.61 211.50,184.54 213.86,183.50 216.15,182.48 218.37,181.48 220.52,180.51 222.60,179.56 224.63,178.63 226.60,177.72 228.52,176.83 230.40,175.95 232.22,175.09 234.00,174.25 235.73,173.43 237.43,172.62 239.08,171.83 240.70,171.05 242.28,170.28 243.83,169.53 245.35,168.79 246.83,168.07 248.29,167.35 249.71,166.65 251.11,165.96 252.48,165.28 253.83,164.61 255.15,163.95 256.45,163.30 257.72,162.66 258.97,162.03 260.20,161.41 261.41,160.79 262.60,160.19 263.78,159.59 264.93,159.01 266.06,158.43 267.18,157.86 268.28,157.29 269.36,156.73 270.43,156.19 271.48,155.64 272.51,155.11 273.54,154.58 274.54,154.05 275.54,153.54 276.52,153.03 277.48,152.52 278.44,152.03 279.38,151.53 280.31,151.05 281.22,150.56 282.13,150.09 283.02,149.62 283.91,149.15 284.78,148.69 285.64,148.24 286.49,147.79 287.34,147.34 288.17,146.90 288.99,146.46 289.81,146.03 290.61,145.60 291.41,145.18 292.19,144.76 292.97,144.34 293.74,143.93 294.50,143.52 295.26,143.12 296.00,142.72 296.74,142.32 297.47,141.93 298.20,141.54 298.91,141.16 299.62,140.77 300.33,140.39 301.02,140.02 301.71,139.65 302.39,139.28 303.07,138.91 303.74,138.55 304.40,138.19 305.06,137.84 305.71,137.48 306.36,137.13 307.00,136.79 307.63,136.44 308.26,136.10 308.88,135.76 309.50,135.42 310.11,135.09 310.72,134.76 311.33,134.43 311.92,134.10 312.52,133.78 313.10,133.46 313.69,133.14 314.26,132.82 314.84,132.51 315.41,132.20 315.97,131.89 316.53,131.58 317.09,131.28 317.64,130.97 318.19,130.67 318.73,130.38 319.27,130.08 319.81,129.79 320.34,129.49 320.87,129.20 321.39,128.92 321.91,128.63 322.42,128.34 322.94,128.06 323.45,127.78 323.95,127.50 324.45,127.23 324.95,126.95 325.45,126.68 325.94,126.41 326.43,126.14 326.91,125.87 327.39,125.60 327.87,125.34 328.35,125.08 328.82,124.81 329.29,124.55 329.75,124.30 330.22,124.04 330.68,123.78 331.13,123.53 331.59,123.28 332.04,123.03 332.49,122.78 332.93,122.53 333.38,122.29 333.82,122.04 334.26,121.80 334.69,121.56 335.12,121.32 335.55,121.08 335.98,120.84 336.41,120.60 336.83,120.37 337.25,120.13 337.66,119.90 338.08,119.67 338.49,119.44 338.90,119.21 339.31,118.98 339.72,118.76 340.12,118.53 340.52,118.31 340.92,118.09 341.32,117.87 341.71,117.65 342.10,117.43 342.49,117.21 342.88,116.99 343.27,116.78 343.65,116.56 344.03,116.35 344.41,116.14 344.79,115.92 345.17,115.71 345.54,115.50 345.91,115.30 346.28,115.09 346.65,114.88 347.02,114.68 347.38,114.47 347.75,114.27 348.11,114.07 348.47,113.87 348.82,113.67 349.18,113.47 349.53,113.27 349.89,113.07 350.24,112.87 350.58,112.68 350.93,112.48 351.28,112.29 351.62,112.10 351.96,111.91 352.30,111.71 352.64,111.52 352.98,111.34 353.32,111.15 353.65,110.96 353.98,110.77 354.31,110.59 354.64,110.40 354.97,110.22 355.30,110.03 355.62,109.85 355.95,109.67 356.27,109.49 356.59,109.31 356.91,109.13 357.23,108.95 357.54,108.77 357.86,108.59 358.17,108.42 358.48,108.24 358.79,108.07 359.10,107.89 359.41,107.72 359.72,107.54 360.03,107.37 360.33,107.20 360.63,107.03 360.94,106.86 361.24,106.69 361.54,106.52 361.83,106.35 362.13,106.19 362.43,106.02 362.72,105.85 363.01,105.69 363.31,105.52 363.60,105.36 363.89,105.20 364.18,105.03 364.46,104.87 364.75,104.71 365.03,104.55 365.32,104.39 365.60,104.23 365.88,104.07 366.16,103.91 366.44,103.75 366.72,103.59 367.00,103.44 367.28,103.28 367.55,103.13 367.83,102.97 368.10,102.82 368.37,102.66 368.64,102.51 368.91,102.36 369.18,102.20 369.45,102.05 369.72,101.90 369.98,101.75 370.25,101.60 370.51,101.45 370.78,101.30 371.04,101.15 371.30,101.01 371.56,100.86 371.82,100.71 372.08,100.57 372.34,100.42 372.59,100.28 372.85,100.13 373.10,99.99 373.36,99.84 373.61,99.70 373.86,99.56 374.11,99.41 374.36,99.27 374.61,99.13 374.86,98.99 375.11,98.85 375.36,98.71 375.60,98.57 375.85,98.43 376.09,98.29 376.34,98.15 376.58,98.02 376.82,97.88 377.06,97.74 377.30,97.61 377.54,97.47 377.78,97.34 378.02,97.20 378.26,97.07 378.49,96.93 378.73,96.80 378.96,96.67 379.20,96.53 379.43,96.40 379.66,96.27 379.90,96.14 380.13,96.01 380.36,95.87 380.59,95.74 380.82,95.61 381.04,95.49 381.27,95.36 381.50,95.23 381.73,95.10 381.95,94.97 382.18,94.84 382.40,94.72 382.62,94.59 382.85,94.46 383.07,94.34 383.29,94.21 383.51,94.09 383.73,93.96 383.95,93.84 384.17,93.71 384.38,93.59 384.60,93.47 384.82,93.34 385.03,93.22 385.25,93.10 385.46,92.98 385.68,92.85 385.89,92.73 386.10,92.61 386.32,92.49 386.53,92.37 386.74,92.25 386.95,92.13 387.16,92.01 387.37,91.90 387.58,91.78 387.78,91.66 387.99,91.54 388.20,91.42 388.40,91.31 388.61,91.19 388.81,91.07 389.02,90.96 389.22,90.84 389.42,90.73 389.63,90.61 389.83,90.50 390.03,90.38 390.23,90.27 390.43,90.15 390.63,90.04 390.83,89.93 391.03,89.81 391.23,89.70 391.42,89.59 391.62,89.48 391.82,89.36 392.01,89.25 392.21,89.14 392.40,89.03 392.60,88.92 392.79,88.81 392.99,88.70 393.18,88.59 393.37,88.48 393.56,88.37 393.75,88.26 393.94,88.15 394.14,88.05 394.32,87.94 394.51,87.83 394.70,87.72 394.89,87.62 395.08,87.51 395.27,87.40 395.45,87.30 395.64,87.19 395.83,87.08 396.01,86.98 396.20,86.87 396.38,86.77 396.56,86.66 396.75,86.56 396.93,86.45 397.11,86.35 397.29,86.25 397.48,86.14 397.66,86.04 397.84,85.94 398.02,85.83 399.20,85.16 399.20,112.26 398.02,112.93 397.84,113.04 397.66,113.14 397.48,113.24 397.29,113.35 397.11,113.45 396.93,113.55 396.75,113.66 396.56,113.76 396.38,113.87 396.20,113.97 396.01,114.08 395.83,114.18 395.64,114.29 395.45,114.40 395.27,114.50 395.08,114.61 394.89,114.72 394.70,114.82 394.51,114.93 394.32,115.04 394.14,115.15 393.94,115.25 393.75,115.36 393.56,115.47 393.37,115.58 393.18,115.69 392.99,115.80 392.79,115.91 392.60,116.02 392.40,116.13 392.21,116.24 392.01,116.35 391.82,116.46 391.62,116.58 391.42,116.69 391.23,116.80 391.03,116.91 390.83,117.03 390.63,117.14 390.43,117.25 390.23,117.37 390.03,117.48 389.83,117.60 389.63,117.71 389.42,117.83 389.22,117.94 389.02,118.06 388.81,118.17 388.61,118.29 388.40,118.41 388.20,118.52 387.99,118.64 387.78,118.76 387.58,118.88 387.37,119.00 387.16,119.11 386.95,119.23 386.74,119.35 386.53,119.47 386.32,119.59 386.10,119.71 385.89,119.83 385.68,119.95 385.46,120.08 385.25,120.20 385.03,120.32 384.82,120.44 384.60,120.57 384.38,120.69 384.17,120.81 383.95,120.94 383.73,121.06 383.51,121.19 383.29,121.31 383.07,121.44 382.85,121.56 382.62,121.69 382.40,121.82 382.18,121.94 381.95,122.07 381.73,122.20 381.50,122.33 381.27,122.46 381.04,122.59 380.82,122.71 380.59,122.84 380.36,122.97 380.13,123.11 379.90,123.24 379.66,123.37 379.43,123.50 379.20,123.63 378.96,123.77 378.73,123.90 378.49,124.03 378.26,124.17 378.02,124.30 377.78,124.44 377.54,124.57 377.30,124.71 377.06,124.84 376.82,124.98 376.58,125.12 376.34,125.25 376.09,125.39 375.85,125.53 375.60,125.67 375.36,125.81 375.11,125.95 374.86,126.09 374.61,126.23 374.36,126.37 374.11,126.51 373.86,126.66 373.61,126.80 373.36,126.94 373.10,127.09 372.85,127.23 372.59,127.38 372.34,127.52 372.08,127.67 371.82,127.81 371.56,127.96 371.30,128.11 371.04,128.25 370.78,128.40 370.51,128.55 370.25,128.70 369.98,128.85 369.72,129.00 369.45,129.15 369.18,129.30 368.91,129.46 368.64,129.61 368.37,129.76 368.10,129.92 367.83,130.07 367.55,130.23 367.28,130.38 367.00,130.54 366.72,130.69 366.44,130.85 366.16,131.01 365.88,131.17 365.60,131.33 365.32,131.49 365.03,131.65 364.75,131.81 364.46,131.97 364.18,132.13 363.89,132.30 363.60,132.46 363.31,132.62 363.01,132.79 362.72,132.95 362.43,133.12 362.13,133.29 361.83,133.45 361.54,133.62 361.24,133.79 360.94,133.96 360.63,134.13 360.33,134.30 360.03,134.47 359.72,134.64 359.41,134.82 359.10,134.99 358.79,135.17 358.48,135.34 358.17,135.52 357.86,135.69 357.54,135.87 357.23,136.05 356.91,136.23 356.59,136.41 356.27,136.59 355.95,136.77 355.62,136.95 355.30,137.13 354.97,137.32 354.64,137.50 354.31,137.69 353.98,137.87 353.65,138.06 353.32,138.25 352.98,138.44 352.64,138.62 352.30,138.81 351.96,139.01 351.62,139.20 351.28,139.39 350.93,139.58 350.58,139.78 350.24,139.97 349.89,140.17 349.53,140.37 349.18,140.57 348.82,140.77 348.47,140.97 348.11,141.17 347.75,141.37 347.38,141.57 347.02,141.78 346.65,141.98 346.28,142.19 345.91,142.40 345.54,142.60 345.17,142.81 344.79,143.02 344.41,143.24 344.03,143.45 343.65,143.66 343.27,143.88 342.88,144.09 342.49,144.31 342.10,144.53 341.71,144.75 341.32,144.97 340.92,145.19 340.52,145.41 340.12,145.63 339.72,145.86 339.31,146.08 338.90,146.31 338.49,146.54 338.08,146.77 337.66,147.00 337.25,147.23 336.83,147.47 336.41,147.70 335.98,147.94 335.55,148.18 335.12,148.42 334.69,148.66 334.26,148.90 333.82,149.14 333.38,149.39 332.93,149.63 332.49,149.88 332.04,150.13 331.59,150.38 331.13,150.63 330.68,150.88 330.22,151.14 329.75,151.40 329.29,151.65 328.82,151.91 328.35,152.18 327.87,152.44 327.39,152.70 326.91,152.97 326.43,153.24 325.94,153.51 325.45,153.78 324.95,154.05 324.45,154.33 323.95,154.60 323.45,154.88 322.94,155.16 322.42,155.44 321.91,155.73 321.39,156.02 320.87,156.30 320.34,156.59 319.81,156.89 319.27,157.18 318.73,157.48 318.19,157.77 317.64,158.07 317.09,158.38 316.53,158.68 315.97,158.99 315.41,159.30 314.84,159.61 314.26,159.92 313.69,160.24 313.10,160.56 312.52,160.88 311.92,161.20 311.33,161.53 310.72,161.86 310.11,162.19 309.50,162.52 308.88,162.86 308.26,163.20 307.63,163.54 307.00,163.89 306.36,164.23 305.71,164.58 305.06,164.94 304.40,165.29 303.74,165.65 303.07,166.01 302.39,166.38 301.71,166.75 301.02,167.12 300.33,167.49 299.62,167.87 298.91,168.26 298.20,168.64 297.47,169.03 296.74,169.42 296.00,169.82 295.26,170.22 294.50,170.62 293.74,171.03 292.97,171.44 292.19,171.86 291.41,172.28 290.61,172.70 289.81,173.13 288.99,173.56 288.17,174.00 287.34,174.44 286.49,174.89 285.64,175.34 284.78,175.79 283.91,176.25 283.02,176.72 282.13,177.19 281.22,177.66 280.31,178.15 279.38,178.63 278.44,179.13 277.48,179.62 276.52,180.13 275.54,180.64 274.54,181.15 273.54,181.68 272.51,182.21 271.48,182.74 270.43,183.29 269.36,183.83 268.28,184.39 267.18,184.96 266.06,185.53 264.93,186.11 263.78,186.69 262.60,187.29 261.41,187.89 260.20,188.51 258.97,189.13 257.72,189.76 256.45,190.40 255.15,191.05 253.83,191.71 252.48,192.38 251.11,193.06 249.71,193.75 248.29,194.45 246.83,195.17 245.35,195.89 243.83,196.63 242.28,197.38 240.70,198.15 239.08,198.93 237.43,199.72 235.73,200.53 234.00,201.35 232.22,202.19 230.40,203.05 228.52,203.93 226.60,204.82 224.63,205.73 222.60,206.66 220.52,207.61 218.37,208.58 216.15,209.58 213.86,210.60 211.50,211.64 209.06,212.71 206.54,213.81 203.92,214.93 201.20,216.09 198.38,217.27 195.44,218.49 192.37,219.75 189.17,221.05 185.82,222.38 182.31,223.76 178.61,225.18 174.72,226.65 170.61,228.18 166.24,229.76 161.59,231.40 156.62,233.11 151.29,234.89 145.53,236.75 139.26,238.70 132.40,240.74 124.81,242.90 116.33,245.17 106.71,247.58 95.61,250.15 82.49,252.91 66.42,255.88 45.70,259.14" fill="url(#bg)"/>
<g fill="#87cefa" stroke="none">
<path d="M45.70 232.04L66.42 228.78L82.49 225.81L95.61 223.05L106.71 220.48L116.33 218.07L124.81 215.80L132.40 213.64L139.26 211.60L145.53 209.65L151.29 207.79L151.29 234.89L145.53 236.75L139.26 238.70L132.40 240.74L124.81 242.90L116.33 245.17L106.71 247.58L95.61 250.15L82.49 252.91L66.42 255.88L45.70 259.14Z"/>
<path d="M151.29 207.79L156.62 206.01L156.62 233.11L151.29 234.89Z"/>
<path d="M156.62 206.01L161.59 204.30L161.59 231.40L156.62 233.11Z"/>
<path d="M161.59 204.30L166.24 202.66L166.24 229.76L161.59 231.40Z"/>
<path d="M166.24 202.66L170.61 201.08L170.61 228.18L166.24 229.76Z"/>
<path d="M170.61 201.08L174.72 199.55L174.72 226.65L170.61 228.18Z"/>
<path d="M174.72 199.55L178.61 198.08L178.61 225.18L174.72 226.65Z"/>
<path d="M178.61 198.08L182.31 196.66L182.31 223.76L178.61 225.18Z"/>
<path d="M182.31 196.66L185.82 195.28L185.82 222.38L182.31 223.76Z"/>
<path d="M185.82 195.28L189.17 193.95L189.17 221.05L185.82 222.38Z"/>
<path d="M189.17 193.95L192.37 192.65L192.37 219.75L189.17 221.05Z"/>
<path d="M192.37 192.65L195.44 191.39L195.44 218.49L192.37 219.75Z"/>
<path d="M195.44 191.39L198.38 190.17L198.38 217.27L195.44 218.49Z"/>
<path d="M198.38 190.17L201.20 188.99L201.20 216.09L198.38 217.27Z"/>
<path d="M201.20 188.99L203.92 187.83L203.92 214.93L201.20 216.09Z"/>
<path d="M203.92 187.83L206.54 186.71L206.54 213.81L203.92 214.93Z"/>
<path d="M206.54 186.71L209.06 185.61L209.06 212.71L206.54 213.81Z"/>
<path d="M209.06 185.61L211.50 184.54L211.50 211.64L209.06 212.71Z"/>
<path d="M211.50 184.54L213.86 183.50L213.86 210.60L211.50 211.64Z"/>
<path d="M213.86 183.50L216.15 182.48L216.15 209.58L213.86 210.60Z"/>
<path d="M216.15 182.48L218.37 181.48L218.37 208.58L216.15 209.58Z"/>
<path d="M218.37 181.48L220.52 180.51L220.52 207.61L218.37 208.58Z"/>
<path d="M220.52 180.51L222.60 179.56L222.60 206.66L220.52 207.61Z"/>
<path d="M222.60 179.56L224.63 178.63L224.63 205.73L222.60 206.66Z"/>
<path d="M224.63 178.63L226.60 177.72L226.60 204.82L224.63 205.73Z"/>
<path d="M226.60 177.72L228.52 176.83L228.52 203.93L226.60 204.82Z"/>
<path d="M228.52 176.83L230.40 175.95L230.40 203.05L228.52 203.93Z"/>
<path d="M230.40 175.95L232.22 175.09L232.22 202.19L230.40 203.05Z"/>
<path d="M232.22 175.09L234.00 174.25L234.00 201.35L232.22 202.19Z"/>
<path d="M234.00 174.25L235.73 173.43L235.73 200.53L234.00 201.35Z"/>
<path d="M235.73 173.43L237.43 172.62L237.43 199.72L235.73 200.53Z"/>
<path d="M237.43 172.62L239.08 171.83L239.08 198.93L237.43 199.72Z"/>
<path d="M239.08 171.83L240.70 171.05L240.70 198.15L239.08 198.93Z"/>
<path d="M240.70 171.05L242.28 170.28L242.28 197.38L240.70 198.15Z"/>
<path d="M242.28 170.28L243.83 169.53L243.83 196.63L242.28 197.38Z"/>
<path d="M243.83 169.53L245.35 168.79L245.35 195.89L243.83 196.63Z"/>
<path d="M245.35 168.79L246.83 168.07L246.83 195.17L245.35 195.89Z"/>
<path d="M246.83 168.07L248.29 167.35L248.29 194.45L246.83 195.17Z"/>
<path d="M248.29 167.35L249.71 166.65L249.71 193.75L248.29 194.45Z"/>
<path d="M249.71 166.65L251.11 165.96L251.11 193.06L249.71 193.75Z"/>
<path d="M251.11 165.96L252.48 165.28L252.48 192.38L251.11 193.06Z"/>
<path d="M252.48 165.28L253.83 164.61L253.83 191.71L252.48 192.38Z"/>
<path d="M253.83 164.61L255.15 163.95L255.15 191.05L253.83 191.71Z"/>
<path d="M255.15 163.95L256.45 163.30L256.45 190.40L255.15 191.05Z"/>
<path d="M256.45 163.30L257.72 162.66L257.72 189.76L256.45 190.40Z"/>
<path d="M257.72 162.66L258.97 162.03L258.97 189.13L257.72 189.76Z"/>
<path d="M258.97 162.03L260.20 161.41L260.20 188.51L258.97 189.13Z"/>
<path d="M260.20 161.41L261.41 160.79L261.41 187.89L260.20 188.51Z"/>
<path d="M261.41 160.79L262.60 160.19L262.60 187.29L261.41 187.89Z"/>
<path d="M262.60 160.19L263.78 159.59L263.78 186.69L262.60 187.29Z"/>
<path d="M263.78 159.59L264.93 159.01L264.93 186.11L263.78 186.69Z"/>
<path d="M264.93 159.01L266.06 158.43L266.06 185.53L264.93 186.11Z"/>
<path d="M266.06 158.43L267.18 157.86L267.18 184.96L266.06 185.53Z"/>
<path d="M267.18 157.86L268.28 157.29L268.28 184.39L267.18 184.96Z"/>
<path d="M268.28 157.29L269.36 156.73L269.36 183.83L268.28 184.39Z"/>
<path d="M269.36 156.73L270.43 156.19L270.43 183.29L269.36 183.83Z"/>
<path d="M270.43 156.19L271.48 155.64L271.48 182.74L270.43 183.29Z"/>
<path d="M271.48 155.64L272.51 155.11L272.51 182.21L271.48 182.74Z"/>
<path d="M272.51 155.11L273.54 154.58L273.54 181.68L272.51 182.21Z"/>
<path d="M273.54 154.58L274.54 154.05L274.54 181.15L273.54 181.68Z"/>
<path d="M274.54 154.05L275.54 153.54L275.54 180.64L274.54 181.15Z"/>
<path d="M275.54 153.54L276.52 153.03L276.52 180.13L275.54 180.64Z"/>
<path d="M276.52 153.03L277.48 152.52L277.48 179.62L276.52 180.13Z"/>
<path d="M277.48 152.52L278.44 152.03L278.44 179.13L277.48 179.62Z"/>
<path d="M278.44 152.03L279.38 151.53L279.38 178.63L278.44 179.13Z"/>
<path d="M279.38 151.53L280.31 151.05L280.31 178.15L279.38 178.63Z"/>
<path d="M280.31 151.05L281.22 150.56L281.22 177.66L280.31 178.15Z"/>
<path d="M281.22 150.56L282.13 150.09L282.13 177.19L281.22 177.66Z"/>
<path d="M282.13 150.09L283.02 149.62L283.02 176.72L282.13 177.19Z"/>
<path d="M283.02 149.62L283.91 149.15L283.91 176.25L283.02 176.72Z"/>
<path d="M283.91 149.15L284.78 148.69L284.78 175.79L283.91 176.25Z"/>
<path d="M284.78 148.69L285.64 148.24L285.64 175.34L284.78 175.79Z"/>
<path d="M285.64 148.24L286.49 147.79L286.49 174.89L285.64 175.34Z"/>
<path d="M286.49 147.79L287.34 147.34L287.34 174.44L286.49 174.89Z"/>
<path d="M287.34 147.34L288.17 146.90L288.17 174.00L287.34 174.44Z"/>
<path d="M288.17 146.90L288.99 146.46L288.99 173.56L288.17 174.00Z"/>
<path d="M288.99 146.46L289.81 146.03L289.81 173.13L288.99 173.56Z"/>
<path d="M289.81 146.03L290.61 145.60L290.61 172.70L289.81 173.13Z"/>
<path d="M290.61 145.60L291.41 145.18L291.41 172.28L290.61 172.70Z"/>
<path d="M291.41 145.18L292.19 144.76L292.19 171.86L291.41 172.28Z"/>
<path d="M292.19 144.76L292.97 144.34L292.97 171.44L292.19 171.86Z"/>
<path d="M292.97 144.34L293.74 143.93L293.74 171.03L292.97 171.44Z"/>
<path d="M293.74 143.93L294.50 143.52L294.50 170.62L293.74 171.03Z"/>
<path d="M294.50 143.52L295.26 143.12L295.26 170.22L294.50 170.62Z"/>
<path d="M295.26 143.12L296.00 142.72L296.00 169.82L295.26 170.22Z"/>
<path d="M296.00 142.72L296.74 142.32L296.74 169.42L296.00 169.82Z"/>
<path d="M296.74 142.32L297.47 141.93L297.47 169.03L296.74 169.42Z"/>
<path d="M297.47 141.93L298.20 141.54L298.20 168.64L297.47 169.03Z"/>
<path d="M298.20 141.54L298.91 141.16L298.91 168.26L298.20 168.64Z"/>
<path d="M298.91 141.16L299.62 140.77L299.62 167.87L298.91 168.26Z"/>
<path d="M299.62 140.77L300.33 140.39L300.33 167.49L299.62 167.87Z"/>
<path d="M300.33 140.39L301.02 140.02L301.02 167.12L300.33 167.49Z"/>
<path d="M301.02 140.02L301.71 139.65L301.71 166.75L301.02 167.12Z"/>
<path d="M301.71 139.65L302.39 139.28L302.39 166.38L301.71 166.75Z"/>
<path d="M302.39 139.28L303.07 138.91L303.07 166.01L302.39 166.38Z"/>
<path d="M303.07 138.91L303.74 138.55L303.74 165.65L303.07 166.01Z"/>
<path d="M303.74 138.55L304.40 138.19L304.40 165.29L303.74 165.65Z"/>
<path d="M304.40 138.19L305.06 137.84L305.06 164.94L304.40 165.29Z"/>
<path d="M305.06 137.84L305.71 137.48L305.71 164.58L305.06 164.94Z"/>
<path d="M305.71 137.48L306.36 137.13L306.36 164.23L305.71 164.58Z"/>
<path d="M306.36 137.13L307.00 136.79L307.00 163.89L306.36 164.23Z"/>
<path d="M307.00 136.79L307.63 136.44L307.63 163.54L307.00 163.89Z"/>
<path d="M307.63 136.44L308.26 136.10L308.26 163.20L307.63 163.54Z"/>
<path d="M308.26 136.10L308.88 135.76L308.88 162.86L308.26 163.20Z"/>
<path d="M308.88 135.76L309.50 135.42L309.50 162.52L308.88 162.86Z"/>
<path d="M309.50 135.42L310.11 135.09L310.11 162.19L309.50 162.52Z"/>
<path d="M310.11 135.09L310.72 134.76L310.72 161.86L310.11 162.19Z"/>
<path d="M310.72 134.76L311.33 134.43L311.33 161.53L310.72 161.86Z"/>
<path d="M311.33 134.43L311.92 134.10L311.92 161.20L311.33 161.53Z"/>
<path d="M311.92 134.10L312.52 133.78L312.52 160.88L311.92 161.20Z"/>
<path d="M312.52 133.78L313.10 133.46L313.10 160.56L312.52 160.88Z"/>
<path d="M313.10 133.46L313.69 133.14L313.69 160.24L313.10 160.56Z"/>
<path d="M313.69 133.14L314.26 132.82L314.26 159.92L313.69 160.24Z"/>
<path d="M314.26 132.82L314.84 132.51L314.84 159.61L314.26 159.92Z"/>
<path d="M314.84 132.51L315.41 132.20L315.41 159.30L314.84 159.61Z"/>
<path d="M315.41 132.20L315.97 131.89L315.97 158.99L315.41 159.30Z"/>
<path d="M315.97 131.89L316.53 131.58L316.53 158.68L315.97 158.99Z"/>
<path d="M316.53 131.58L317.09 131.28L317.09 158.38L316.53 158.68Z"/>
<path d="M317.09 131.28L317.64 130.97L317.64 158.07L317.09 158.38Z"/>
<path d="M317.64 130.97L318.19 130.67L318.19 157.77L317.64 158.07Z"/>
<path d="M318.19 130.67L318.73 130.38L318.73 157.48L318.19 157.77Z"/>
<path d="M318.73 130.38L319.27 130.08L319.27 157.18L318.73 157.48Z"/>
<path d="M319.27 130.08L319.81 129.79L319.81 156.89L319.27 157.18Z"/>
<path d="M319.81 129.79L320.34 129.49L320.34 156.59L319.81 156.89Z"/>
<path d="M320.34 129.49L320.87 129.20L320.87 156.30L320.34 156.59Z"/>
<path d="M320.87 129.20L321.39 128.92L321.39 156.02L320.87 156.30Z"/>
<path d="M321.39 128.92L321.91 128.63L321.91 155.73L321.39 156.02Z"/>
<path d="M321.91 128.63L322.42 128.34L322.42 155.44L321.91 155.73Z"/>
<path d="M322.42 128.34L322.94 128.06L322.94 155.16L322.42 155.44Z"/>
<path d="M322.94 128.06L323.45 127.78L323.45 154.88L322.94 155.16Z"/>
<path d="M323.45 127.78L323.95 127.50L323.95 154.60L323.45 154.88Z"/>
<path d="M323.95 127.50L324.45 127.23L324.45 154.33L323.95 154.60Z"/>
<path d="M324.45 127.23L324.95 126.95L324.95 154.05L324.45 154.33Z"/>
<path d="M324.95 126.95L325.45 126.68L325.45 153.78L324.95 154.05Z"/>
<path d="M325.45 126.68L325.94 126.41L325.94 153.51L325.45 153.78Z"/>
<path d="M325.94 126.41L326.43 126.14L326.43 153.24L325.94 153.51Z"/>
<path d="M326.43 126.14L326.91 125.87L326.91 152.97L326.43 153.24Z"/>
<path d="M326.91 125.87L327.39 125.60L327.39 152.70L326.91 152.97Z"/>
<path d="M327.39 125.60L327.87 125.34L327.87 152.44L327.39 152.70Z"/>
<path d="M327.87 125.34L328.35 125.08L328.35 152.18L327.87 152.44Z"/>
<path d="M328.35 125.08L328.82 124.81L328.82 151.91L328.35 152.18Z"/>
<path d="M328.82 124.81L329.29 124.55L329.29 151.65L328.82 151.91Z"/>
<path d="M329.29 124.55L329.75 124.30L329.75 151.40L329.29 151.65Z"/>
<path d="M329.75 124.30L330.22 124.04L330.22 151.14L329.75 151.40Z"/>
<path d="M330.22 124.04L330.68 123.78L330.68 150.88L330.22 151.14Z"/>
<path d="M330.68 123.78L331.13 123.53L331.13 150.63L330.68 150.88Z"/>
<path d="M331.13 123.53L331.59 123.28L331.59 150.38L331.13 150.63Z"/>
<path d="M331.59 123.28L332.04 123.03L332.04 150.13L331.59 150.38Z"/>
<path d="M332.04 123.03L332.49 122.78L332.49 149.88L332.04 150.13Z"/>
<path d="M332.49 122.78L332.93 122.53L332.93 149.63L332.49 149.88Z"/>
<path d="M332.93 122.53L333.38 122.29L333.38 149.39L332.93 149.63Z"/>
<path d="M333.38 122.29L333.82 122.04L333.82 149.14L333.38 149.39Z"/>
<path d="M333.82 122.04L334.26 121.80L334.26 148.90L333.82 149.14Z"/>
<path d="M334.26 121.80L334.69 121.56L334.69 148.66L334.26 148.90Z"/>
<path d="M334.69 121.56L335.12 121.32L335.12 148.42L334.69 148.66Z"/>
<path d="M335.12 121.32L335.55 121.08L335.55 148.18L335.12 148.42Z"/>
<path d="M335.55 121.08L335.98 120.84L335.98 147.94L335.55 148.18Z"/>
<path d="M335.98 120.84L336.41 120.60L336.41 147.70L335.98 147.94Z"/>
<path d="M336.41 120.60L336.83 120.37L336.83 147.47L336.41 147.70Z"/>
<path d="M336.83 120.37L337.25 120.13L337.25 147.23L336.83 147.47Z"/>
<path d="M337.25 120.13L337.66 119.90L337.66 147.00L337.25 147.23Z"/>
<path d="M337.66 119.90L338.08 119.67L338.08 146.77L337.66 147.00Z"/>
<path d="M338.08 119.67L338.49 119.44L338.49 146.54L338.08 146.77Z"/>
<path d="M338.49 119.44L338.90 119.21L338.90 146.31L338.49 146.54Z"/>
<path d="M338.90 119.21L339.31 118.98L339.31 146.08L338.90 146.31Z"/>
<path d="M339.31 118.98L339.72 118.76L339.72 145.86L339.31 146.08Z"/>
<path d="M339.72 118.76L340.12 118.53L340.12 145.63L339.72 145.86Z"/>
<path d="M340.12 118.53L340.52 118.31L340.52 145.41L340.12 145.63Z"/>
<path d="M340.52 118.31L340.92 118.09L340.92 145.19L340.52 145.41Z"/>
<path d="M340.92 118.09L341.32 117.87L341.32 144.97L340.92 145.19Z"/>
<path d="M341.32 117.87L341.71 117.65L341.71 144.75L341.32 144.97Z"/>
<path d="M341.71 117.65L342.10 117.43L342.10 144.53L341.71 144.75Z"/>
<path d="M342.10 117.43L342.49 117.21L342.49 144.31L342.10 144.53Z"/>
<path d="M342.49 117.21L342.88 116.99L342.88 144.09L342.49 144.31Z"/>
<path d="M342.88 116.99L343.27 116.78L343.27 143.88L342.88 144.09Z"/>
<path d="M343.27 116.78L343.65 116.56L343.65 143.66L343.27 143.88Z"/>
<path d="M343.65 116.56L344.03 116.35L344.03 143.45L343.65 143.66Z"/>
<path d="M344.03 116.35L344.41 116.14L344.41 143.24L344.03 143.45Z"/>
<path d="M344.41 116.14L344.79 115.92L344.79 143.02L344.41 143.24Z"/>
<path d="M344.79 115.92L345.17 115.71L345.17 142.81L344.79 143.02Z"/>
<path d="M345.17 115.71L345.54 115.50L345.54 142.60L345.17 142.81Z"/>
<path d="M345.54 115.50L345.91 115.30L345.91 142.40L345.54 142.60Z"/>
<path d="M345.91 115.30L346.28 115.09L346.28 142.19L345.91 142.40Z"/>
<path d="M346.28 115.09L346.65 114.88L346.65 141.98L346.28 142.19Z"/>
<path d="M346.65 114.88L347.02 114.68L347.02 141.78L346.65 141.98Z"/>
<path d="M347.02 114.68L347.38 114.47L347.38 141.57L347.02 141.78Z"/>
<path d="M347.38 114.47L347.75 114.27L347.75 141.37L347.38 141.57Z"/>
<path d="M347.75 114.27L348.11 114.07L348.11 141.17L347.75 141.37Z"/>
<path d="M348.11 114.07L348.47 113.87L348.47 140.97L348.11 141.17Z"/>
<path d="M348.47 113.87L348.82 113.67L348.82 140.77L348.47 140.97Z"/>
<path d="M348.82 113.67L349.18 113.47L349.18 140.57L348.82 140.77Z"/>
<path d="M349.18 113.47L349.53 113.27L349.53 140.37L349.18 140.57Z"/>
<path d="M349.53 113.27L349.89 113.07L349.89 140.17L349.53 140.37Z"/>
<path d="M349.89 113.07L350.24 112.87L350.24 139.97L349.89 140.17Z"/>
<path d="M350.24 112.87L350.58 112.68L350.58 139.78L350.24 139.97Z"/>
<path d="M350.58 112.68L350.93 112.48L350.93 139.58L350.58 139.78Z"/>
<path d="M350.93 112.48L351.28 112.29L351.28 139.39L350.93 139.58Z"/>
<path d="M351.28 112.29L351.62 112.10L351.62 139.20L351.28 139.39Z"/>
<path d="M351.62 112.10L351.96 111.91L351.96 139.01L351.62 139.20Z"/>
<path d="M351.96 111.91L352.30 111.71L352.30 138.81L351.96 139.01Z"/>
<path d="M352.30 111.71L352.64 111.52L352.64 138.62L352.30 138.81Z"/>
<path d="M352.64 111.52L352.98 111.34L352.98 138.44L352.64 138.62Z"/>
<path d="M352.98 111.34L353.32 111.15L353.32 138.25L352.98 138.44Z"/>
<path d="M353.32 111.15L353.65 110.96L353.65 138.06L353.32 138.25Z"/>
<path d="M353.65 110.96L353.98 110.77L353.98 137.87L353.65 138.06Z"/>
<path d="M353.98 110.77L354.31 110.59L354.31 137.69L353.98 137.87Z"/>
<path d="M354.31 110.59L354.64 110.40L354.64 137.50L354.31 137.69Z"/>
<path d="M354.64 110.40L354.97 110.22L354.97 137.32L354.64 137.50Z"/>
<path d="M354.97 110.22L355.30 110.03L355.30 137.13L354.97 137.32Z"/>
<path d="M355.30 110.03L355.62 109.85L355.62 136.95L355.30 137.13Z"/>
<path d="M355.62 109.85L355.95 109.67L355.95 136.77L355.62 136.95Z"/>
<path d="M355.95 109.67L356.27 109.49L356.27 136.59L355.95 136.77Z"/>
<path d="M356.27 109.49L356.59 109.31L356.59 136.41L356.27 136.59Z"/>
<path d="M356.59 109.31L356.91 109.13L356.91 136.23L356.59 136.41Z"/>
<path d="M356.91 109.13L357.23 108.95L357.23 136.05L356.91 136.23Z"/>
<path d="M357.23 108.95L357.54 108.77L357.54 135.87L357.23 136.05Z"/>
<path d="M357.54 108.77L357.86 108.59L357.86 135.69L357.54 135.87Z"/>
<path d="M357.86 108.59L358.17 108.42L358.17 135.52L357.86 135.69Z"/>
<path d="M358.17 108.42L358.48 108.24L358.48 135.34L358.17 135.52Z"/>
<path d="M358.48 108.24L358.79 108.07L358.79 135.17L358.48 135.34Z"/>
<path d="M358.79 108.07L359.10 107.89L359.10 134.99L358.79 135.17Z"/>
<path d="M359.10 107.89L359.41 107.72L359.41 134.82L359.10 134.99Z"/>
<path d="M359.41 107.72L359.72 107.54L359.72 134.64L359.41 134.82Z"/>
<path d="M359.72 107.54L360.03 107.37L360.03 134.47L359.72 134.64Z"/>
<path d="M360.03 107.37L360.33 107.20L360.33 134.30L360.03 134.47Z"/>
<path d="M360.33 107.20L360.63 107.03L360.63 134.13L360.33 134.30Z"/>
<path d="M360.63 107.03L360.94 106.86L360.94 133.96L360.63 134.13Z"/>
<path d="M360.94 106.86L361.24 106.69L361.24 133.79L360.94 133.96Z"/>
<path d="M361.24 106.69L361.54 106.52L361.54 133.62L361.24 133.79Z"/>
<path d="M361.54 106.52L361.83 106.35L361.83 133.45L361.54 133.62Z"/>
<path d="M361.83 106.35L362.13 106.19L362.13 133.29L361.83 133.45Z"/>
<path d="M362.13 106.19L362.43 106.02L362.43 133.12L362.13 133.29Z"/>
<path d="M362.43 106.02L362.72 105.85L362.72 132.95L362.43 133.12Z"/>
<path d="M362.72 105.85L363.01 105.69L363.01 132.79L362.72 132.95Z"/>
<path d="M363.01 105.69L363.31 105.52L363.31 132.62L363.01 132.79Z"/>
<path d="M363.31 105.52L363.60 105.36L363.60 132.46L363.31 132.62Z"/>
<path d="M363.60 105.36L363.89 105.20L363.89 132.30L363.60 132.46Z"/>
<path d="M363.89 105.20L364.18 105.03L364.18 132.13L363.89 132.30Z"/>
<path d="M364.18 105.03L364.46 104.87L364.46 131.97L364.18 132.13Z"/>
<path d="M364.46 104.87L364.75 104.71L364.75 131.81L364.46 131.97Z"/>
<path d="M364.75 104.71L365.03 104.55L365.03 131.65L364.75 131.81Z"/>
<path d="M365.03 104.55L365.32 104.39L365.32 131.49L365.03 131.65Z"/>
<path d="M365.32 104.39L365.60 104.23L365.60 131.33L365.32 131.49Z"/>
<path d="M365.60 104.23L365.88 104.07L365.88 131.17L365.60 131.33Z"/>
<path d="M365.88 104.07L366.16 103.91L366.16 131.01L365.88 131.17Z"/>
<path d="M366.16 103.91L366.44 103.75L366.44 130.85L366.16 131.01Z"/>
<path d="M366.44 103.75L366.72 103.59L366.72 130.69L366.44 130.85Z"/>
<path d="M366.72 103.59L367.00 103.44L367.00 130.54L366.72 130.69Z"/>
<path d="M367.00 103.44L367.28 103.28L367.28 130.38L367.00 130.54Z"/>
<path d="M367.28 103.28L367.55 103.13L367.55 130.23L367.28 130.38Z"/>
<path d="M367.55 103.13L367.83 102.97L367.83 130.07L367.55 130.23Z"/>
<path d="M367.83 102.97L368.10 102.82L368.10 129.92L367.83 130.07Z"/>
<path d="M368.10 102.82L368.37 102.66L368.37 129.76L368.10 129.92Z"/>
<path d="M368.37 102.66L368.64 102.51L368.64 129.61L368.37 129.76Z"/>
<path d="M368.64 102.51L368.91 102.36L368.91 129.46L368.64 129.61Z"/>
<path d="M368.91 102.36L369.18 102.20L369.18 129.30L368.91 129.46Z"/>
<path d="M369.18 102.20L369.45 102.05L369.45 129.15L369.18 129.30Z"/>
<path d="M369.45 102.05L369.72 101.90L369.72 129.00L369.45 129.15Z"/>
<path d="M369.72 101.90L369.98 101.75L369.98 128.85L369.72 129.00Z"/>
<path d="M369.98 101.75L370.25 101.60L370.25 128.70L369.98 128.85Z"/>
<path d="M370.25 101.60L370.51 101.45L370.51 128.55L370.25 128.70Z"/>
<path d="M370.51 101.45L370.78 101.30L370.78 128.40L370.51 128.55Z"/>
<path d="M370.78 101.30L371.04 101.15L371.04 128.25L370.78 128.40Z"/>
<path d="M371.04 101.15L371.30 101.01L371.30 128.11L371.04 128.25Z"/>
<path d="M371.30 101.01L371.56 100.86L371.56 127.96L371.30 128.11Z"/>
<path d="M371.56 100.86L371.82 100.71L371.82 127.81L371.56 127.96Z"/>
<path d="M371.82 100.71L372.08 100.57L372.08 127.67L371.82 127.81Z"/>
<path d="M372.08 100.57L372.34 100.42L372.34 127.52L372.08 127.67Z"/>
<path d="M372.34 100.42L372.59 100.28L372.59 127.38L372.34 127.52Z"/>
<path d="M372.59 100.28L372.85 100.13L372.85 127.23L372.59 127.38Z"/>
<path d="M372.85 100.13L373.10 99.99L373.10 127.09L372.85 127.23Z"/>
<path d="M373.10 99.99L373.36 99.84L373.36 126.94L373.10 127.09Z"/>
<path d="M373.36 99.84L373.61 99.70L373.61 126.80L373.36 126.94Z"/>
<path d="M373.61 99.70L373.86 99.56L373.86 126.66L373.61 126.80Z"/>
<path d="M373.86 99.56L374.11 99.41L374.11 126.51L373.86 126.66Z"/>
<path d="M374.11 99.41L374.36 99.27L374.36 126.37L374.11 126.51Z"/>
<path d="M374.36 99.27L374.61 99.13L374.61 126.23L374.36 126.37Z"/>
<path d="M374.61 99.13L374.86 98.99L374.86 126.09L374.61 126.23Z"/>
<path d="M374.86 98.99L375.11 98.85L375.11 125.95L374.86 126.09Z"/>
<path d="M375.11 98.85L375.36 98.71L375.36 125.81L375.11 125.95Z"/>
<path d="M375.36 98.71L375.60 98.57L375.60 125.67L375.36 125.81Z"/>
<path d="M375.60 98.57L375.85 98.43L375.85 125.53L375.60 125.67Z"/>
<path d="M375.85 98.43L376.09 98.29L376.09 125.39L375.85 125.53Z"/>
<path d="M376.09 98.29L376.34 98.15L376.34 125.25L376.09 125.39Z"/>
<path d="M376.34 98.15L376.58 98.02L376.58 125.12L376.34 125.25Z"/>
<path d="M376.58 98.02L376.82 97.88L376.82 124.98L376.58 125.12Z"/>
<path d="M376.82 97.88L377.06 97.74L377.06 124.84L376.82 124.98Z"/>
<path d="M377.06 97.74L377.30 97.61L377.30 124.71L377.06 124.84Z"/>
<path d="M377.30 97.61L377.54 97.47L377.54 124.57L377.30 124.71Z"/>
<path d="M377.54 97.47L377.78 97.34L377.78 124.44L377.54 124.57Z"/>
<path d="M377.78 97.34L378.02 97.20L378.02 124.30L377.78 124.44Z"/>
<path d="M378.02 97.20L378.26 97.07L378.26 124.17L378.02 124.30Z"/>
<path d="M378.26 97.07L378.49 96.93L378.49 124.03L378.26 124.17Z"/>
<path d="M378.49 96.93L378.73 96.80L378.73 123.90L378.49 124.03Z"/>
<path d="M378.73 96.80L378.96 96.67L378.96 123.77L378.73 123.90Z"/>
<path d="M378.96 96.67L379.20 96.53L379.20 123.63L378.96 123.77Z"/>
<path d="M379.20 96.53L379.43 96.40L379.43 123.50L379.20 123.63Z"/>
<path d="M379.43 96.40L379.66 96.27L379.66 123.37L379.43 123.50Z"/>
<path d="M379.66 96.27L379.90 96.14L379.90 123.24L379.66 123.37Z"/>
<path d="M379.90 96.14L380.13 96.01L380.13 123.11L379.90 123.24Z"/>
<path d="M380.13 96.01L380.36 95.87L380.36 122.97L380.13 123.11Z"/>
<path d="M380.36 95.87L380.59 95.74L380.59 122.84L380.36 122.97Z"/>
<path d="M380.59 95.74L380.82 95.61L380.82 122.71L380.59 122.84Z"/>
<path d="M380.82 95.61L381.04 95.49L381.04 122.59L380.82 122.71Z"/>
<path d="M381.04 95.49L381.27 95.36L381.27 122.46L381.04 122.59Z"/>
<path d="M381.27 95.36L381.50 95.23L381.50 122.33L381.27 122.46Z"/>
<path d="M381.50 95.23L381.73 95.10L381.73 122.20L381.50 122.33Z"/>
<path d="M381.73 95.10L381.95 94.97L381.95 122.07L381.73 122.20Z"/>
<path d="M381.95 94.97L382.18 94.84L382.18 121.94L381.95 122.07Z"/>
<path d="M382.18 94.84L382.40 94.72L382.40 121.82L382.18 121.94Z"/>
<path d="M382.40 94.72L382.62 94.59L382.62 121.69L382.40 121.82Z"/>
<path d="M382.62 94.59L382.85 94.46L382.85 121.56L382.62 121.69Z"/>
<path d="M382.85 94.46L383.07 94.34L383.07 121.44L382.85 121.56Z"/>
<path d="M383.07 94.34L383.29 94.21L383.29 121.31L383.07 121.44Z"/>
<path d="M383.29 94.21L383.51 94.09L383.51 121.19L383.29 121.31Z"/>
<path d="M383.51 94.09L383.73 93.96L383.73 121.06L383.51 121.19Z"/>
<path d="M383.73 93.96L383.95 93.84L383.95 120.94L383.73 121.06Z"/>
<path d="M383.95 93.84L384.17 93.71L384.17 120.81L383.95 120.94Z"/>
<path d="M384.17 93.71L384.38 93.59L384.38 120.69L384.17 120.81Z"/>
<path d="M384.38 93.59L384.60 93.47L384.60 120.57L384.38 120.69Z"/>
<path d="M384.60 93.47L384.82 93.34L384.82 120.44L384.60 120.57Z"/>
<path d="M384.82 93.34L385.03 93.22L385.03 120.32L384.82 120.44Z"/>
<path d="M385.03 93.22L385.25 93.10L385.25 120.20L385.03 120.32Z"/>
<path d="M385.25 93.10L385.46 92.98L385.46 120.08L385.25 120.20Z"/>
<path d="M385.46 92.98L385.68 92.85L385.68 119.95L385.46 120.08Z"/>
<path d="M385.68 92.85L385.89 92.73L385.89 119.83L385.68 119.95Z"/>
<path d="M385.89 92.73L386.10 92.61L386.10 119.71L385.89 119.83Z"/>
<path d="M386.10 92.61L386.32 92.49L386.32 119.59L386.10 119.71Z"/>
<path d="M386.32 92.49L386.53 92.37L386.53 119.47L386.32 119.59Z"/>
<path d="M386.53 92.37L386.74 92.25L386.74 119.35L386.53 119.47Z"/>
<path d="M386.74 92.25L386.95 92.13L386.95 119.23L386.74 119.35Z"/>
<path d="M386.95 92.13L387.16 92.01L387.16 119.11L386.95 119.23Z"/>
<path d="M387.16 92.01L387.37 91.90L387.37 119.00L387.16 119.11Z"/>
<path d="M387.37 91.90L387.58 91.78L387.58 118.88L387.37 119.00Z"/>
<path d="M387.58 91.78L387.78 91.66L387.78 118.76L387.58 118.88Z"/>
<path d="M387.78 91.66L387.99 91.54L387.99 118.64L387.78 118.76Z"/>
<path d="M387.99 91.54L388.20 91.42L388.20 118.52L387.99 118.64Z"/>
<path d="M388.20 91.42L388.40 91.31L388.40 118.41L388.20 118.52Z"/>
<path d="M388.40 91.31L388.61 91.19L388.61 118.29L388.40 118.41Z"/>
<path d="M388.61 91.19L388.81 91.07L388.81 118.17L388.61 118.29Z"/>
<path d="M388.81 91.07L389.02 90.96L389.02 118.06L388.81 118.17Z"/>
<path d="M389.02 90.96L389.22 90.84L389.22 117.94L389.02 118.06Z"/>
<path d="M389.22 90.84L389.42 90.73L389.42 117.83L389.22 117.94Z"/>
<path d="M389.42 90.73L389.63 90.61L389.63 117.71L389.42 117.83Z"/>
<path d="M389.63 90.61L389.83 90.50L389.83 117.60L389.63 117.71Z"/>
<path d="M389.83 90.50L390.03 90.38L390.03 117.48L389.83 117.60Z"/>
<path d="M390.03 90.38L390.23 90.27L390.23 117.37L390.03 117.48Z"/>
<path d="M390.23 90.27L390.43 90.15L390.43 117.25L390.23 117.37Z"/>
<path d="M390.43 90.15L390.63 90.04L390.63 117.14L390.43 117.25Z"/>
<path d="M390.63 90.04L390.83 89.93L390.83 117.03L390.63 117.14Z"/>
<path d="M390.83 89.93L391.03 89.81L391.03 116.91L390.83 117.03Z"/>
<path d="M391.03 89.81L391.23 89.70L391.23 116.80L391.03 116.91Z"/>
<path d="M391.23 89.70L391.42 89.59L391.42 116.69L391.23 116.80Z"/>
<path d="M391.42 89.59L391.62 89.48L391.62 116.58L391.42 116.69Z"/>
<path d="M391.62 89.48L391.82 89.36L391.82 116.46L391.62 116.58Z"/>
<path d="M391.82 89.36L392.01 89.25L392.01 116.35L391.82 116.46Z"/>
<path d="M392.01 89.25L392.21 89.14L392.21 116.24L392.01 116.35Z"/>
<path d="M392.21 89.14L392.40 89.03L392.40 116.13L392.21 116.24Z"/>
<path d="M392.40 89.03L392.60 88.92L392.60 116.02L392.40 116.13Z"/>
<path d="M392.60 88.92L392.79 88.81L392.79 115.91L392.60 116.02Z"/>
<path d="M392.79 88.81L392.99 88.70L392.99 115.80L392.79 115.91Z"/>
<path d="M392.99 88.70L393.18 88.59L393.18 115.69L392.99 115.80Z"/>
<path d="M393.18 88.59L393.37 88.48L393.37 115.58L393.18 115.69Z"/>
<path d="M393.37 88.48L393.56 88.37L393.56 115.47L393.37 115.58Z"/>
<path d="M393.56 88.37L393.75 88.26L393.75 115.36L393.56 115.47Z"/>
<path d="M393.75 88.26L393.94 88.15L393.94 115.25L393.75 115.36Z"/>
<path d="M393.94 88.15L394.14 88.05L394.14 115.15L393.94 115.25Z"/>
<path d="M394.14 88.05L394.32 87.94L394.32 115.04L394.14 115.15Z"/>
<path d="M394.32 87.94L394.51 87.83L394.51 114.93L394.32 115.04Z"/>
<path d="M394.51 87.83L394.70 87.72L394.70 114.82L394.51 114.93Z"/>
<path d="M394.70 87.72L394.89 87.62L394.89 114.72L394.70 114.82Z"/>
<path d="M394.89 87.62L395.08 87.51L395.08 114.61L394.89 114.72Z"/>
<path d="M395.08 87.51L395.27 87.40L395.27 114.50L395.08 114.61Z"/>
<path d="M395.27 87.40L395.45 87.30L395.45 114.40L395.27 114.50Z"/>
<path d="M395.45 87.30L395.64 87.19L395.64 114.29L395.45 114.40Z"/>
<path d="M395.64 87.19L395.83 87.08L395.83 114.18L395.64 114.29Z"/>
<path d="M395.83 87.08L396.01 86.98L396.01 114.08L395.83 114.18Z"/>
<path d="M396.01 86.98L396.20 86.87L396.20 113.97L396.01 114.08Z"/>
<path d="M396.20 86.87L396.38 86.77L396.38 113.87L396.20 113.97Z"/>
<path d="M396.38 86.77L396.56 86.66L396.56 113.76L396.38 113.87Z"/>
<path d="M396.56 86.66L396.75 86.56L396.75 113.66L396.56 113.76Z"/>
<path d="M396.75 86.56L396.93 86.45L396.93 113.55L396.75 113.66Z"/>
<path d="M396.93 86.45L397.11 86.35L397.11 113.45L396.93 113.55Z"/>
<path d="M397.11 86.35L397.29 86.25L397.29 113.35L397.11 113.45Z"/>
<path d="M397.29 86.25L397.48 86.14L397.48 113.24L397.29 113.35Z"/>
<path d="M397.48 86.14L397.66 86.04L397.66 113.14L397.48 113.24Z"/>
<path d="M397.66 86.04L397.84 85.94L397.84 113.04L397.66 113.14Z"/>
<path d="M397.84 85.94L398.02 85.83L398.02 112.93L397.84 113.04Z"/>
<path d="M398.02 85.83L399.20 85.16L399.20 112.26L398.02 112.93Z"/>
</g>
<polyline points="45.70,232.04 66.42,228.78 82.49,225.81 95.61,223.05 106.71,220.48 116.33,218.07 124.81,215.80 132.40,213.64 139.26,211.60 145.53,209.65 151.29,207.79 156.62,206.01 161.59,204.30 166.24,202.66 170.61,201.08 174.72,199.55 178.61,198.08 182.31,196.66 185.82,195.28 189.17,193.95 192.37,192.65 195.44,191.39 198.38,190.17 201.20,188.99 203.92,187.83 206.54,186.71 209.06,185.61 211.50,184.54 213.86,183.50 216.15,182.48 218.37,181.48 220.52,180.51 222.60,179.56 224.63,178.63 226.60,177.72 228.52,176.83 230.40,175.95 232.22,175.09 234.00,174.25 235.73,173.43 237.43,172.62 239.08,171.83 240.70,171.05 242.28,170.28 243.83,169.53 245.35,168.79 246.83,168.07 248.29,167.35 249.71,166.65 251.11,165.96 252.48,165.28 253.83,164.61 255.15,163.95 256.45,163.30 257.72,162.66 258.97,162.03 260.20,161.41 261.41,160.79 262.60,160.19 263.78,159.59 264.93,159.01 266.06,158.43 267.18,157.86 268.28,157.29 269.36,156.73 270.43,156.19 271.48,155.64 272.51,155.11 273.54,154.58 274.54,154.05 275.54,153.54 276.52,153.03 277.48,152.52 278.44,152.03 279.38,151.53 280.31,151.05 281.22,150.56 282.13,150.09 283.02,149.62 283.91,149.15 284.78,148.69 285.64,148.24 286.49,147.79 287.34,147.34 288.17,146.90 288.99,146.46 289.81,146.03 290.61,145.60 291.41,145.18 292.19,144.76 292.97,144.34 293.74,143.93 294.50,143.52 295.26,143.12 296.00,142.72 296.74,142.32 297.47,141.93 298.20,141.54 298.91,141.16 299.62,140.77 300.33,140.39 301.02,140.02 301.71,139.65 302.39,139.28 303.07,138.91 303.74,138.55 304.40,138.19 305.06,137.84 305.71,137.48 306.36,137.13 307.00,136.79 307.63,136.44 308.26,136.10 308.88,135.76 309.50,135.42 310.11,135.09 310.72,134.76 311.33,134.43 311.92,134.10 312.52,133.78 313.10,133.46 313.69,133.14 314.26,132.82 314.84,132.51 315.41,132.20 315.97,131.89 316.53,131.58 317.09,131.28 317.64,130.97 318.19,130.67 318.73,130.38 319.27,130.08 319.81,129.79 320.34,129.49 320.87,129.20 321.39,128.92 321.91,128.63 322.42,128.34 322.94,128.06 323.45,127.78 323.95,127.50 324.45,127.23 324.95,126.95 325.45,126.68 325.94,126.41 326.43,126.14 326.91,125.87 327.39,125.60 327.87,125.34 328.35,125.08 328.82,124.81 329.29,124.55 329.75,124.30 330.22,124.04 330.68,123.78 331.13,123.53 331.59,123.28 332.04,123.03 332.49,122.78 332.93,122.53 333.38,122.29 333.82,122.04 334.26,121.80 334.69,121.56 335.12,121.32 335.55,121.08 335.98,120.84 336.41,120.60 336.83,120.37 337.25,120.13 337.66,119.90 338.08,119.67 338.49,119.44 338.90,119.21 339.31,118.98 339.72,118.76 340.12,118.53 340.52,118.31 340.92,118.09 341.32,117.87 341.71,117.65 342.10,117.43 342.49,117.21 342.88,116.99 343.27,116.78 343.65,116.56 344.03,116.35 344.41,116.14 344.79,115.92 345.17,115.71 345.54,115.50 345.91,115.30 346.28,115.09 346.65,114.88 347.02,114.68 347.38,114.47 347.75,114.27 348.11,114.07 348.47,113.87 348.82,113.67 349.18,113.47 349.53,113.27 349.89,113.07 350.24,112.87 350.58,112.68 350.93,112.48 351.28,112.29 351.62,112.10 351.96,111.91 352.30,111.71 352.64,111.52 352.98,111.34 353.32,111.15 353.65,110.96 353.98,110.77 354.31,110.59 354.64,110.40 354.97,110.22 355.30,110.03 355.62,109.85 355.95,109.67 356.27,109.49 356.59,109.31 356.91,109.13 357.23,108.95 357.54,108.77 357.86,108.59 358.17,108.42 358.48,108.24 358.79,108.07 359.10,107.89 359.41,107.72 359.72,107.54 360.03,107.37 360.33,107.20 360.63,107.03 360.94,106.86 361.24,106.69 361.54,106.52 361.83,106.35 362.13,106.19 362.43,106.02 362.72,105.85 363.01,105.69 363.31,105.52 363.60,105.36 363.89,105.20 364.18,105.03 364.46,104.87 364.75,104.71 365.03,104.55 365.32,104.39 365.60,104.23 365.88,104.07 366.16,103.91 366.44,103.75 366.72,103.59 367.00,103.44 367.28,103.28 367.55,103.13 367.83,102.97 368.10,102.82 368.37,102.66 368.64,102.51 368.91,102.36 369.18,102.20 369.45,102.05 369.72,101.90 369.98,101.75 370.25,101.60 370.51,101.45 370.78,101.30 371.04,101.15 371.30,101.01 371.56,100.86 371.82,100.71 372.08,100.57 372.34,100.42 372.59,100.28 372.85,100.13 373.10,99.99 373.36,99.84 373.61,99.70 373.86,99.56 374.11,99.41 374.36,99.27 374.61,99.13 374.86,98.99 375.11,98.85 375.36,98.71 375.60,98.57 375.85,98.43 376.09,98.29 376.34,98.15 376.58,98.02 376.82,97.88 377.06,97.74 377.30,97.61 377.54,97.47 377.78,97.34 378.02,97.20 378.26,97.07 378.49,96.93 378.73,96.80 378.96,96.67 379.20,96.53 379.43,96.40 379.66,96.27 379.90,96.14 380.13,96.01 380.36,95.87 380.59,95.74 380.82,95.61 381.04,95.49 381.27,95.36 381.50,95.23 381.73,95.10 381.95,94.97 382.18,94.84 382.40,94.72 382.62,94.59 382.85,94.46 383.07,94.34 383.29,94.21 383.51,94.09 383.73,93.96 383.95,93.84 384.17,93.71 384.38,93.59 384.60,93.47 384.82,93.34 385.03,93.22 385.25,93.10 385.46,92.98 385.68,92.85 385.89,92.73 386.10,92.61 386.32,92.49 386.53,92.37 386.74,92.25 386.95,92.13 387.16,92.01 387.37,91.90 387.58,91.78 387.78,91.66 387.99,91.54 388.20,91.42 388.40,91.31 388.61,91.19 388.81,91.07 389.02,90.96 389.22,90.84 389.42,90.73 389.63,90.61 389.83,90.50 390.03,90.38 390.23,90.27 390.43,90.15 390.63,90.04 390.83,89.93 391.03,89.81 391.23,89.70 391.42,89.59 391.62,89.48 391.82,89.36 392.01,89.25 392.21,89.14 392.40,89.03 392.60,88.92 392.79,88.81 392.99,88.70 393.18,88.59 393.37,88.48 393.56,88.37 393.75,88.26 393.94,88.15 394.14,88.05 394.32,87.94 394.51,87.83 394.70,87.72 394.89,87.62 395.08,87.51 395.27,87.40 395.45,87.30 395.64,87.19 395.83,87.08 396.01,86.98 396.20,86.87 396.38,86.77 396.56,86.66 396.75,86.56 396.93,86.45 397.11,86.35 397.29,86.25 397.48,86.14 397.66,86.04 397.84,85.94 398.02,85.83 399.20,85.16" stroke="#000" stroke-width="0.7" stroke-opacity="0.9"/>
<polyline points="45.70,259.14 66.42,255.88 82.49,252.91 95.61,250.15 106.71,247.58 116.33,245.17 124.81,242.90 132.40,240.74 139.26,238.70 145.53,236.75 151.29,234.89 156.62,233.11 161.59,231.40 166.24,229.76 170.61,228.18 174.72,226.65 178.61,225.18 182.31,223.76 185.82,222.38 189.17,221.05 192.37,219.75 195.44,218.49 198.38,217.27 201.20,216.09 203.92,214.93 206.54,213.81 209.06,212.71 211.50,211.64 213.86,210.60 216.15,209.58 218.37,208.58 220.52,207.61 222.60,206.66 224.63,205.73 226.60,204.82 228.52,203.93 230.40,203.05 232.22,202.19 234.00,201.35 235.73,200.53 237.43,199.72 239.08,198.93 240.70,198.15 242.28,197.38 243.83,196.63 245.35,195.89 246.83,195.17 248.29,194.45 249.71,193.75 251.11,193.06 252.48,192.38 253.83,191.71 255.15,191.05 256.45,190.40 257.72,189.76 258.97,189.13 260.20,188.51 261.41,187.89 262.60,187.29 263.78,186.69 264.93,186.11 266.06,185.53 267.18,184.96 268.28,184.39 269.36,183.83 270.43,183.29 271.48,182.74 272.51,182.21 273.54,181.68 274.54,181.15 275.54,180.64 276.52,180.13 277.48,179.62 278.44,179.13 279.38,178.63 280.31,178.15 281.22,177.66 282.13,177.19 283.02,176.72 283.91,176.25 284.78,175.79 285.64,175.34 286.49,174.89 287.34,174.44 288.17,174.00 288.99,173.56 289.81,173.13 290.61,172.70 291.41,172.28 292.19,171.86 292.97,171.44 293.74,171.03 294.50,170.62 295.26,170.22 296.00,169.82 296.74,169.42 297.47,169.03 298.20,168.64 298.91,168.26 299.62,167.87 300.33,167.49 301.02,167.12 301.71,166.75 302.39,166.38 303.07,166.01 303.74,165.65 304.40,165.29 305.06,164.94 305.71,164.58 306.36,164.23 307.00,163.89 307.63,163.54 308.26,163.20 308.88,162.86 309.50,162.52 310.11,162.19 310.72,161.86 311.33,161.53 311.92,161.20 312.52,160.88 313.10,160.56 313.69,160.24 314.26,159.92 314.84,159.61 315.41,159.30 315.97,158.99 316.53,158.68 317.09,158.38 317.64,158.07 318.19,157.77 318.73,157.48 319.27,157.18 319.81,156.89 320.34,156.59 320.87,156.30 321.39,156.02 321.91,155.73 322.42,155.44 322.94,155.16 323.45,154.88 323.95,154.60 324.45,154.33 324.95,154.05 325.45,153.78 325.94,153.51 326.43,153.24 326.91,152.97 327.39,152.70 327.87,152.44 328.35,152.18 328.82,151.91 329.29,151.65 329.75,151.40 330.22,151.14 330.68,150.88 331.13,150.63 331.59,150.38 332.04,150.13 332.49,149.88 332.93,149.63 333.38,149.39 333.82,149.14 334.26,148.90 334.69,148.66 335.12,148.42 335.55,148.18 335.98,147.94 336.41,147.70 336.83,147.47 337.25,147.23 337.66,147.00 338.08,146.77 338.49,146.54 338.90,146.31 339.31,146.08 339.72,145.86 340.12,145.63 340.52,145.41 340.92,145.19 341.32,144.97 341.71,144.75 342.10,144.53 342.49,144.31 342.88,144.09 343.27,143.88 343.65,143.66 344.03,143.45 344.41,143.24 344.79,143.02 345.17,142.81 345.54,142.60 345.91,142.40 346.28,142.19 346.65,141.98 347.02,141.78 347.38,141.57 347.75,141.37 348.11,141.17 348.47,140.97 348.82,140.77 349.18,140.57 349.53,140.37 349.89,140.17 350.24,139.97 350.58,139.78 350.93,139.58 351.28,139.39 351.62,139.20 351.96,139.01 352.30,138.81 352.64,138.62 352.98,138.44 353.32,138.25 353.65,138.06 353.98,137.87 354.31,137.69 354.64,137.50 354.97,137.32 355.30,137.13 355.62,136.95 355.95,136.77 356.27,136.59 356.59,136.41 356.91,136.23 357.23,136.05 357.54,135.87 357.86,135.69 358.17,135.52 358.48,135.34 358.79,135.17 359.10,134.99 359.41,134.82 359.72,134.64 360.03,134.47 360.33,134.30 360.63,134.13 360.94,133.96 361.24,133.79 361.54,133.62 361.83,133.45 362.13,133.29 362.43,133.12 362.72,132.95 363.01,132.79 363.31,132.62 363.60,132.46 363.89,132.30 364.18,132.13 364.46,131.97 364.75,131.81 365.03,131.65 365.32,131.49 365.60,131.33 365.88,131.17 366.16,131.01 366.44,130.85 366.72,130.69 367.00,130.54 367.28,130.38 367.55,130.23 367.83,130.07 368.10,129.92 368.37,129.76 368.64,129.61 368.91,129.46 369.18,129.30 369.45,129.15 369.72,129.00 369.98,128.85 370.25,128.70 370.51,128.55 370.78,128.40 371.04,128.25 371.30,128.11 371.56,127.96 371.82,127.81 372.08,127.67 372.34,127.52 372.59,127.38 372.85,127.23 373.10,127.09 373.36,126.94 373.61,126.80 373.86,126.66 374.11,126.51 374.36,126.37 374.61,126.23 374.86,126.09 375.11,125.95 375.36,125.81 375.60,125.67 375.85,125.53 376.09,125.39 376.34,125.25 376.58,125.12 376.82,124.98 377.06,124.84 377.30,124.71 377.54,124.57 377.78,124.44 378.02,124.30 378.26,124.17 378.49,124.03 378.73,123.90 378.96,123.77 379.20,123.63 379.43,123.50 379.66,123.37 379.90,123.24 380.13,123.11 380.36,122.97 380.59,122.84 380.82,122.71 381.04,122.59 381.27,122.46 381.50,122.33 381.73,122.20 381.95,122.07 382.18,121.94 382.40,121.82 382.62,121.69 382.85,121.56 383.07,121.44 383.29,121.31 383.51,121.19 383.73,121.06 383.95,120.94 384.17,120.81 384.38,120.69 384.60,120.57 384.82,120.44 385.03,120.32 385.25,120.20 385.46,120.08 385.68,119.95 385.89,119.83 386.10,119.71 386.32,119.59 386.53,119.47 386.74,119.35 386.95,119.23 387.16,119.11 387.37,119.00 387.58,118.88 387.78,118.76 387.99,118.64 388.20,118.52 388.40,118.41 388.61,118.29 388.81,118.17 389.02,118.06 389.22,117.94 389.42,117.83 389.63,117.71 389.83,117.60 390.03,117.48 390.23,117.37 390.43,117.25 390.63,117.14 390.83,117.03 391.03,116.91 391.23,116.80 391.42,116.69 391.62,116.58 391.82,116.46 392.01,116.35 392.21,116.24 392.40,116.13 392.60,116.02 392.79,115.91 392.99,115.80 393.18,115.69 393.37,115.58 393.56,115.47 393.75,115.36 393.94,115.25 394.14,115.15 394.32,115.04 394.51,114.93 394.70,114.82 394.89,114.72 395.08,114.61 395.27,114.50 395.45,114.40 395.64,114.29 395.83,114.18 396.01,114.08 396.20,113.97 396.38,113.87 396.56,113.76 396.75,113.66 396.93,113.55 397.11,113.45 397.29,113.35 397.48,113.24 397.66,113.14 397.84,113.04 398.02,112.93 399.20,112.26" stroke="#000" stroke-width="0.7" stroke-opacity="0.9"/>
<polyline points="45.00,346.21 46.00,344.08 47.00,342.00 48.00,339.96 49.00,337.95 50.00,335.98 51.00,334.05 52.00,332.15 53.00,330.28 54.00,328.44 55.00,326.63 56.00,324.84 57.00,323.08 58.00,321.35 59.00,319.64 60.00,317.95 61.00,316.29 62.00,314.64 63.00,313.02 64.00,311.41 65.00,309.82 66.00,308.25 67.00,306.69 68.00,305.15 69.00,303.62 70.00,302.11 71.00,300.61 72.00,299.13 73.00,297.65 74.00,296.19 75.00,294.74 76.00,293.30 77.00,291.87 78.00,290.45 79.00,289.04 80.00,287.63 81.00,286.24 82.00,284.86 83.00,283.48 84.00,282.11 85.00,280.74 86.00,279.39 87.00,278.04 88.00,276.69 89.00,275.36 90.00,274.02 91.00,272.70 92.00,271.38 93.00,270.06 94.00,268.75 95.00,267.44 96.00,266.14 97.00,264.84 98.00,263.55 99.00,262.26 100.00,260.97 101.00,259.69 102.00,258.41 103.00,257.14 104.00,255.86 105.00,254.59 106.00,253.33 107.00,252.06 108.00,250.80 109.00,249.55 110.00,248.29 111.00,247.04 112.00,245.79 113.00,244.54 114.00,243.29 115.00,242.05 116.00,240.81 117.00,239.57 118.00,238.33 119.00,237.10 120.00,235.86 121.00,234.63 122.00,233.40 123.00,232.17 124.00,230.94 125.00,229.72 126.00,228.50 127.00,227.27 128.00,226.05 129.00,224.83 130.00,223.61 131.00,222.40 132.00,221.18 133.00,219.97 134.00,218.75 135.00,217.54 136.00,216.33 137.00,215.12 138.00,213.91 139.00,212.71 140.00,211.50 141.00,210.29 142.00,209.09 143.00,207.89 144.00,206.68 145.00,205.48 146.00,204.28 147.00,203.08 148.00,201.88 149.00,200.69 150.00,199.49 151.00,198.29 152.00,197.10 153.00,195.90 154.00,194.71 155.00,193.52 156.00,192.32 157.00,191.13 158.00,189.94 159.00,188.75 160.00,187.56 161.00,186.37 162.00,185.18 163.00,184.00 164.00,182.81 165.00,181.62 166.00,180.44 167.00,179.25 168.00,178.07 169.00,176.89 170.00,175.70 171.00,174.52 172.00,173.34 173.00,172.16 174.00,170.98 175.00,169.80 176.00,168.62 177.00,167.44 178.00,166.26 179.00,165.08 180.00,163.90 181.00,162.73 182.00,161.55 183.00,160.37 184.00,159.20 185.00,158.02 186.00,156.85 187.00,155.68 188.00,154.50 189.00,153.33 190.00,152.16 191.00,150.99 192.00,149.81 193.00,148.64 194.00,147.47 195.00,146.30 196.00,145.13 197.00,143.96 198.00,142.79 199.00,141.62 200.00,140.46 201.00,139.29 202.00,138.12 203.00,136.96 204.00,135.79 205.00,134.62 206.00,133.46 207.00,132.29 208.00,131.13 209.00,129.96 210.00,128.80 211.00,127.63 212.00,126.47 213.00,125.31 214.00,124.15 215.00,122.98 216.00,121.82 217.00,120.66 218.00,119.50 219.00,118.34 220.00,117.18 221.00,116.02 222.00,114.86 223.00,113.70 224.00,112.54 225.00,111.38 226.00,110.22 227.00,109.06 228.00,107.91 229.00,106.75 230.00,105.59 231.00,104.43 232.00,103.28 233.00,102.12 234.00,100.97 235.00,99.81 236.00,98.65 237.00,97.50 238.00,96.35 239.00,95.19 240.00,94.04 241.00,92.88 242.00,91.73 243.00,90.58 244.00,89.42 245.00,88.27 246.00,87.12 247.00,85.97 248.00,84.81 249.00,83.66 250.00,82.51 251.00,81.36 252.00,80.21 253.00,79.06 254.00,77.91 255.00,76.76 256.00,75.61 257.00,74.46 258.00,73.31 259.00,72.16 260.00,71.01 261.00,69.86 262.00,68.71 263.00,67.57 264.00,66.42 265.00,65.27 266.00,64.12 267.00,62.98 268.00,61.83 269.00,60.68 270.00,59.54 271.00,58.39 272.00,57.24 273.00,56.10 274.00,54.95 275.00,53.81 276.00,52.66 277.00,51.52 278.00,50.37 279.00,49.23 280.00,48.08 281.00,46.94 282.00,45.79 283.00,44.65 284.00,43.51 285.00,42.36 286.00,41.22 287.00,40.08 288.00,38.94 289.00,37.79 290.00,36.65 291.00,35.51 292.00,34.37 293.00,33.22 294.00,32.08 295.00,30.94 296.00,29.80 297.00,28.66 298.00,27.52 299.00,26.38 300.00,25.24 301.00,24.10 302.00,22.96 303.00,21.82 304.00,20.68 305.00,19.54 306.00,18.40 307.00,17.26 308.00,16.12 309.00,14.98 310.00,13.84" stroke="#000" stroke-width="1.65"/>
</g>
<path d="M46.00 368.95L52.00 368.95M398.30 368.95L392.30 368.95M46.00 340.26L49.20 340.26M398.30 340.26L395.10 340.26M46.00 323.48L49.20 323.48M398.30 323.48L395.10 323.48M46.00 311.57L49.20 311.57M398.30 311.57L395.10 311.57M46.00 302.34L49.20 302.34M398.30 302.34L395.10 302.34M46.00 294.79L49.20 294.79M398.30 294.79L395.10 294.79M46.00 288.41L49.20 288.41M398.30 288.41L395.10 288.41M46.00 282.89L49.20 282.89M398.30 282.89L395.10 282.89M46.00 278.01L49.20 278.01M398.30 278.01L395.10 278.01M46.00 273.65L52.00 273.65M398.30 273.65L392.30 273.65M46.00 244.96L49.20 244.96M398.30 244.96L395.10 244.96M46.00 228.18L49.20 228.18M398.30 228.18L395.10 228.18M46.00 216.27L49.20 216.27M398.30 216.27L395.10 216.27M46.00 207.04L49.20 207.04M398.30 207.04L395.10 207.04M46.00 199.49L49.20 199.49M398.30 199.49L395.10 199.49M46.00 193.11L49.20 193.11M398.30 193.11L395.10 193.11M46.00 187.59L49.20 187.59M398.30 187.59L395.10 187.59M46.00 182.71L49.20 182.71M398.30 182.71L395.10 182.71M46.00 178.35L52.00 178.35M398.30 178.35L392.30 178.35M46.00 149.66L49.20 149.66M398.30 149.66L395.10 149.66M46.00 132.88L49.20 132.88M398.30 132.88L395.10 132.88M46.00 120.97L49.20 120.97M398.30 120.97L395.10 120.97M46.00 111.74L49.20 111.74M398.30 111.74L395.10 111.74M46.00 104.19L49.20 104.19M398.30 104.19L395.10 104.19M46.00 97.81L49.20 97.81M398.30 97.81L395.10 97.81M46.00 92.29L49.20 92.29M398.30 92.29L395.10 92.29M46.00 87.41L49.20 87.41M398.30 87.41L395.10 87.41M46.00 83.05L52.00 83.05M398.30 83.05L392.30 83.05M46.00 54.36L49.20 54.36M398.30 54.36L395.10 54.36M46.00 37.58L49.20 37.58M398.30 37.58L395.10 37.58M46.00 25.67L49.20 25.67M398.30 25.67L395.10 25.67M46.00 16.44L49.20 16.44M398.30 16.44L395.10 16.44M45.70 369.05L45.70 365.85M45.70 16.25L45.70 19.45M66.42 369.05L66.42 365.85M66.42 16.25L66.42 19.45M82.49 369.05L82.49 365.85M82.49 16.25L82.49 19.45M95.61 369.05L95.61 365.85M95.61 16.25L95.61 19.45M106.71 369.05L106.71 365.85M106.71 16.25L106.71 19.45M116.33 369.05L116.33 365.85M116.33 16.25L116.33 19.45M124.81 369.05L124.81 365.85M124.81 16.25L124.81 19.45M132.40 369.05L132.40 363.05M132.40 16.25L132.40 22.25M182.31 369.05L182.31 365.85M182.31 16.25L182.31 19.45M211.50 369.05L211.50 365.85M211.50 16.25L211.50 19.45M232.22 369.05L232.22 365.85M232.22 16.25L232.22 19.45M248.29 369.05L248.29 365.85M248.29 16.25L248.29 19.45M261.41 369.05L261.41 365.85M261.41 16.25L261.41 19.45M272.51 369.05L272.51 365.85M272.51 16.25L272.51 19.45M282.13 369.05L282.13 365.85M282.13 16.25L282.13 19.45M290.61 369.05L290.61 365.85M290.61 16.25L290.61 19.45M298.20 369.05L298.20 363.05M298.20 16.25L298.20 22.25M348.11 369.05L348.11 365.85M348.11 16.25L348.11 19.45M377.30 369.05L377.30 365.85M377.30 16.25L377.30 19.45M398.02 369.05L398.02 365.85M398.02 16.25L398.02 19.45" stroke="#000" stroke-width="0.9" fill="none"/>
<g stroke="#000" fill="none" stroke-linecap="square">
<path d="M46.00 16.25V369.05" stroke-width="1.5"/>
<path d="M46.00 369.05H398.30" stroke-width="1.5"/>
<path d="M46.00 16.25H398.30" stroke-width="1.1"/>
<path d="M398.30 16.25V369.05" stroke-width="1.3"/>
</g>
<g opacity="0.999"><text x="45.80" y="10.60" font-size="14.00" class="i" textLength="12.80" lengthAdjust="spacingAndGlyphs">m</text>
<text x="60.00" y="12.50" font-size="8.60" class="i" textLength="6.00" lengthAdjust="spacingAndGlyphs">χ</text>
<path d="M73.20 6.55H81.80M73.20 9.65H81.80" stroke="#000" stroke-width="0.70" fill="none" stroke-linecap="round"/>
<text x="87.70" y="10.80" font-size="14.30" textLength="14.90" lengthAdjust="spacingAndGlyphs">10</text>
<text x="106.60" y="10.80" font-size="14.30" textLength="30.20" lengthAdjust="spacingAndGlyphs">MeV</text>
<text x="150.80" y="10.80" font-size="14.00" class="i" textLength="9.40" lengthAdjust="spacingAndGlyphs">α</text>
<path d="M163.6 1.0L162.0 5.2" stroke="#000" stroke-width="0.90" fill="none" stroke-linecap="round"/>
<path d="M170.60 6.55H179.60M170.60 9.65H179.60" stroke="#000" stroke-width="0.70" fill="none" stroke-linecap="round"/>
<text x="185.40" y="10.80" font-size="14.00" class="i" textLength="9.40" lengthAdjust="spacingAndGlyphs">α</text>
<text x="7.00" y="87.15" font-size="14.30" textLength="14.90" lengthAdjust="spacingAndGlyphs">10</text>
<path d="M23.20 79.05H29.80" stroke="#000" stroke-width="0.70" fill="none" stroke-linecap="round"/>
<text x="32.10" y="81.85" font-size="9.40" textLength="5.70" lengthAdjust="spacingAndGlyphs">1</text>
<text x="7.00" y="182.45" font-size="14.30" textLength="14.90" lengthAdjust="spacingAndGlyphs">10</text>
<path d="M23.20 174.35H29.80" stroke="#000" stroke-width="0.70" fill="none" stroke-linecap="round"/>
<text x="32.10" y="177.15" font-size="9.40" textLength="5.70" lengthAdjust="spacingAndGlyphs">2</text>
<text x="7.00" y="277.75" font-size="14.30" textLength="14.90" lengthAdjust="spacingAndGlyphs">10</text>
<path d="M23.20 269.65H29.80" stroke="#000" stroke-width="0.70" fill="none" stroke-linecap="round"/>
<text x="32.10" y="272.45" font-size="9.40" textLength="5.70" lengthAdjust="spacingAndGlyphs">3</text>
<text x="7.00" y="373.05" font-size="14.30" textLength="14.90" lengthAdjust="spacingAndGlyphs">10</text>
<path d="M23.20 364.95H29.80" stroke="#000" stroke-width="0.70" fill="none" stroke-linecap="round"/>
<text x="32.10" y="367.75" font-size="9.40" textLength="5.70" lengthAdjust="spacingAndGlyphs">4</text>
<text x="132.90" y="383.60" font-size="13.30" text-anchor="middle" style="fill:#000">0.1</text>
<text x="298.40" y="383.60" font-size="13.30" text-anchor="middle" style="fill:#000">1</text>
<text x="192.30" y="393.60" font-size="13.30" class="i" textLength="11.90" lengthAdjust="spacingAndGlyphs">m</text>
<text x="205.20" y="394.70" font-size="8.80" class="i" textLength="8.20" lengthAdjust="spacingAndGlyphs">V</text>
<text x="219.40" y="392.90" font-size="12.60" textLength="31.00" lengthAdjust="spacingAndGlyphs" style="fill:#000">(GeV)</text>
<text transform="translate(6.4,196.6) rotate(-90)" font-size="13.3" class="i" textLength="7.4" lengthAdjust="spacingAndGlyphs">κ</text>
<text x="230.30" y="266.80" font-size="13.30" textLength="6.00" lengthAdjust="spacingAndGlyphs">J</text>
<path d="M238.0 270.00L242.4 257.00" stroke="#000" stroke-width="0.80" fill="none" stroke-linecap="round"/>
<text x="244.20" y="266.80" font-size="13.50" class="i" textLength="10.00" lengthAdjust="spacingAndGlyphs">ψ</text>
<path d="M260.80 263.90H274.60M271.60 261.30Q272.95 263.25 274.60 263.90Q272.95 264.55 271.60 266.50" stroke="#000" stroke-width="0.70" fill="none" stroke-linecap="round"/>
<text x="279.00" y="266.80" font-size="13.30" textLength="52.30" lengthAdjust="spacingAndGlyphs">invisible</text>
<text x="250.00" y="280.45" font-size="13.30" textLength="80.90" lengthAdjust="spacingAndGlyphs" style="fill:#000">Monojet (CDF)</text>
<text x="296.00" y="294.05" font-size="13.50" class="i" textLength="6.20" lengthAdjust="spacingAndGlyphs">e</text>
<path d="M304.30 286.45H310.90M307.60 283.15V289.75" stroke="#000" stroke-width="0.70" fill="none" stroke-linecap="round"/>
<text x="314.00" y="294.05" font-size="13.50" class="i" textLength="6.20" lengthAdjust="spacingAndGlyphs">e</text>
<path d="M322.70 286.45H329.70" stroke="#000" stroke-width="0.70" fill="none" stroke-linecap="round"/>
<text x="279.20" y="307.55" font-size="13.30" textLength="51.80" lengthAdjust="spacingAndGlyphs" style="fill:#000">Muon g-2</text>
<text x="211.40" y="321.40" font-size="13.50" class="i" textLength="8.60" lengthAdjust="spacingAndGlyphs">π</text>
<text x="221.00" y="316.50" font-size="9.30" textLength="6.00" lengthAdjust="spacingAndGlyphs">0</text>
<path d="M233.10 318.50H246.10M243.10 315.90Q244.45 317.85 246.10 318.50Q244.45 319.15 243.10 321.10" stroke="#000" stroke-width="0.70" fill="none" stroke-linecap="round"/>
<text x="251.00" y="321.10" font-size="12.00" class="i" textLength="8.00" lengthAdjust="spacingAndGlyphs" style="fill:#3a3a3a">γ</text>
<path d="M264.40 318.40H273.60M269.00 313.80V323.00" stroke="#000" stroke-width="0.70" fill="none" stroke-linecap="round"/>
<text x="279.00" y="321.40" font-size="13.30" textLength="52.30" lengthAdjust="spacingAndGlyphs">invisible</text>
<text x="194.80" y="334.60" font-size="13.30" textLength="10.40" lengthAdjust="spacingAndGlyphs">K</text>
<path d="M206.90 327.30H214.10M210.50 323.70V330.90" stroke="#000" stroke-width="0.70" fill="none" stroke-linecap="round"/>
<path d="M222.00 331.70H235.10M232.10 329.10Q233.45 331.05 235.10 331.70Q233.45 332.35 232.10 334.30" stroke="#000" stroke-width="0.70" fill="none" stroke-linecap="round"/>
<text x="239.90" y="334.60" font-size="13.50" class="i" textLength="8.60" lengthAdjust="spacingAndGlyphs">π</text>
<path d="M249.50 327.30H256.70M253.10 323.70V330.90" stroke="#000" stroke-width="0.70" fill="none" stroke-linecap="round"/>
<path d="M264.40 331.60H273.60M269.00 327.00V336.20" stroke="#000" stroke-width="0.70" fill="none" stroke-linecap="round"/>
<text x="279.00" y="334.60" font-size="13.30" textLength="52.30" lengthAdjust="spacingAndGlyphs">invisible</text>
<text x="262.80" y="348.20" font-size="13.30" textLength="67.60" lengthAdjust="spacingAndGlyphs" style="fill:#000">Relic density</text>
<path d="M338 263.00H370.7" stroke="#00008b" stroke-width="1.6" fill="none"/>
<path d="M338 276.65H370.7" stroke="#1e90ff" stroke-width="1.6" fill="none"/>
<path d="M338 290.25H370.7" stroke="#00ffff" stroke-width="1.6" fill="none"/>
<path d="M338 303.75H370.7" stroke="#ac0000" stroke-width="1.6" fill="none"/>
<path d="M338 317.60H370.7" stroke="#ff0000" stroke-width="1.6" fill="none"/>
<path d="M338 330.80H370.7" stroke="#ffa500" stroke-width="1.6" fill="none"/>
<path d="M338 344.40H370.7" stroke="#000000" stroke-width="1.6" fill="none"/></g>
</svg>
</body></html>
